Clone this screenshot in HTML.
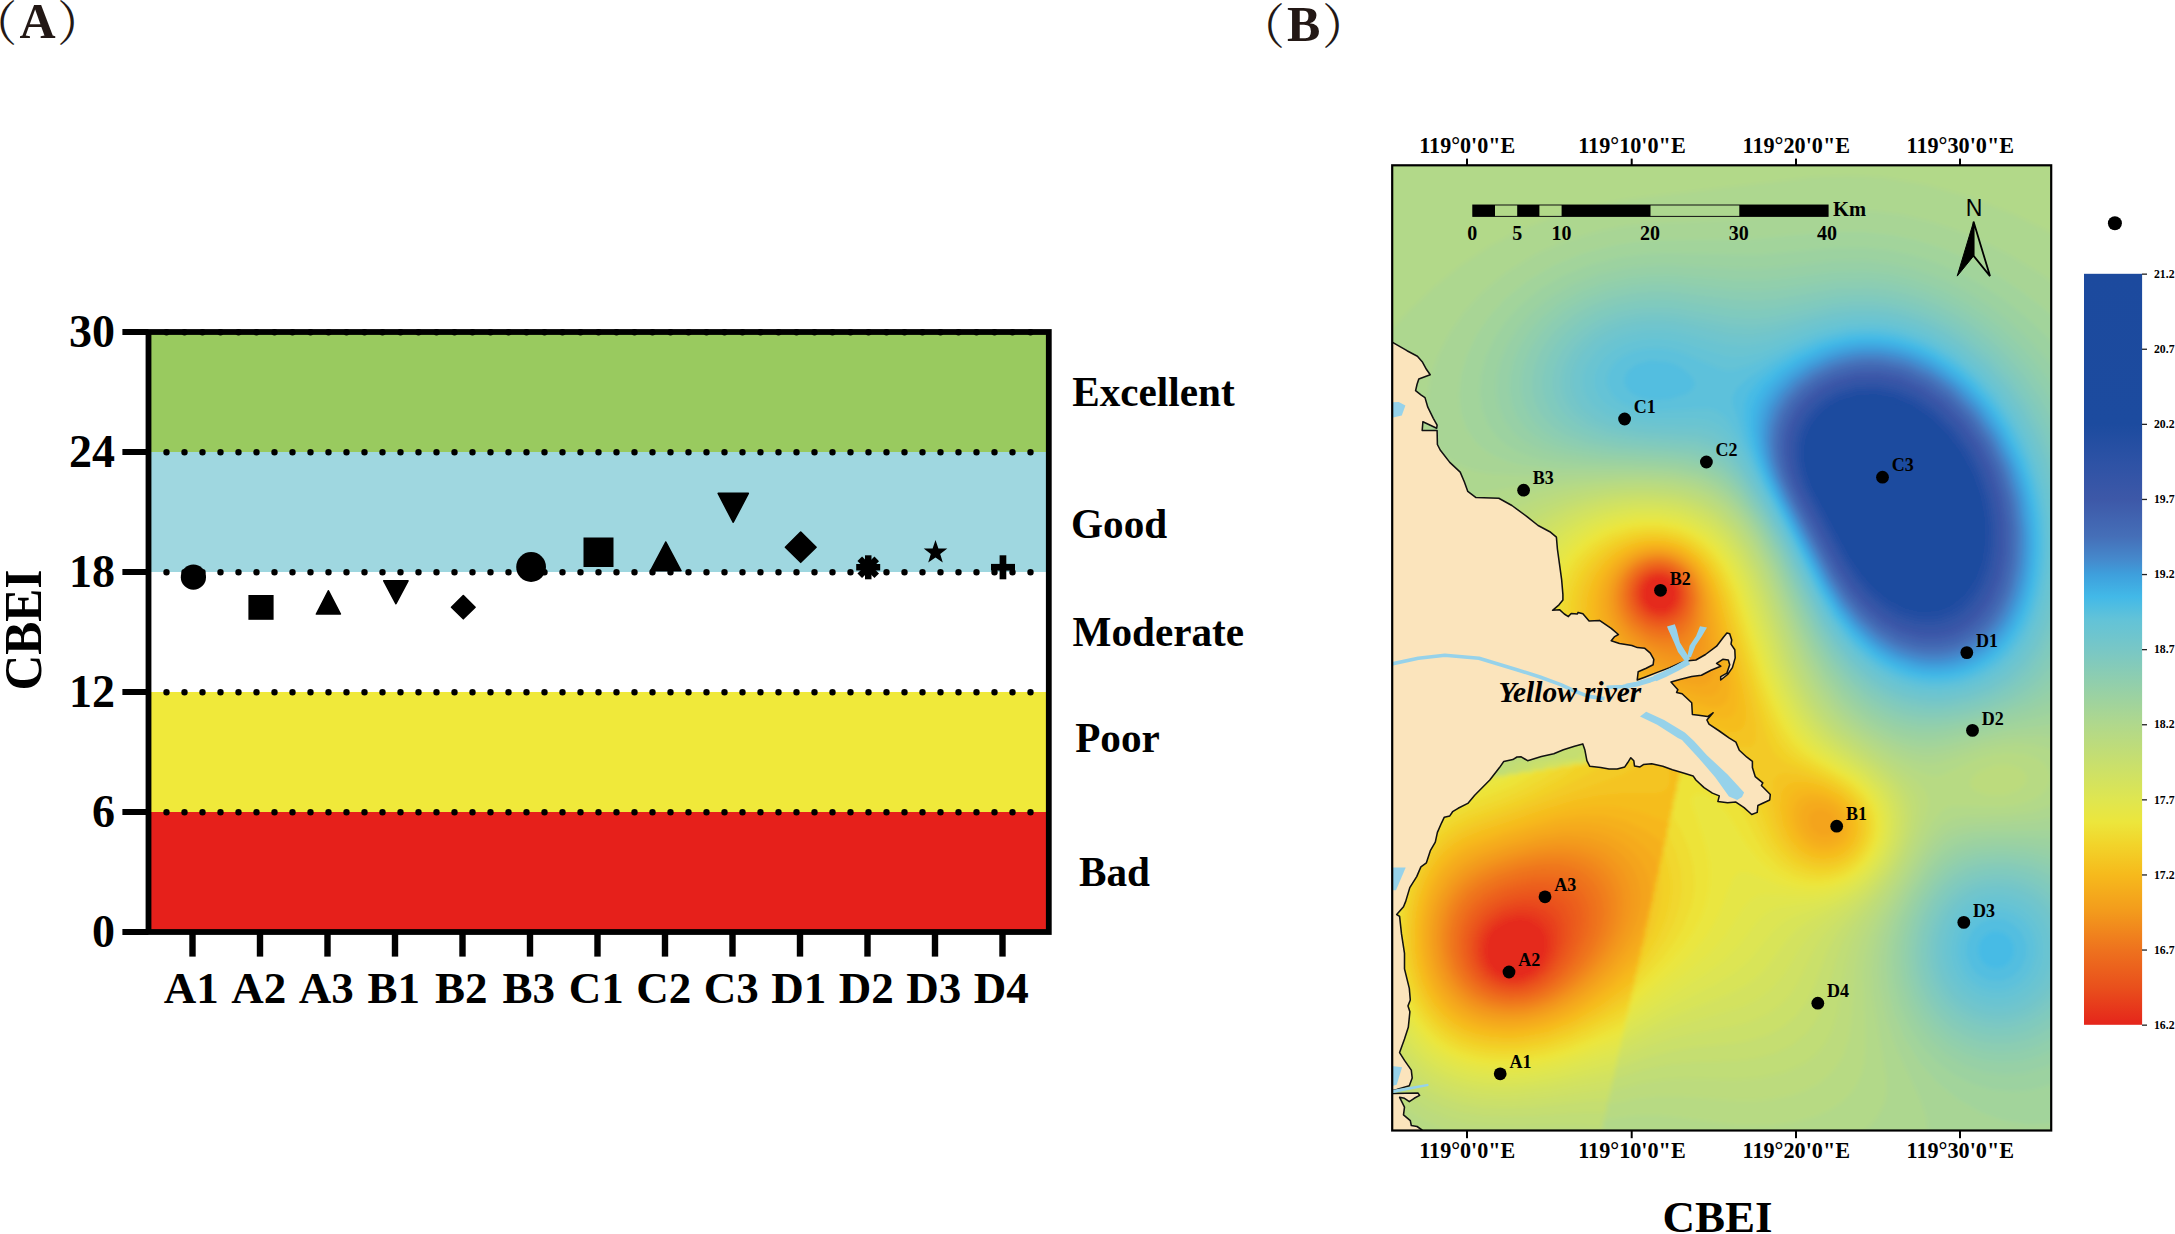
<!DOCTYPE html>
<html lang="en"><head><meta charset="utf-8"><title>CBEI figure</title>
<style>html,body{margin:0;padding:0;background:#fff}body{width:2175px;height:1234px;overflow:hidden}svg{display:block}text{font-family:'Liberation Serif','Noto Serif CJK SC',serif;font-weight:bold;fill:#000}.s{font-family:'Liberation Sans',sans-serif;font-weight:normal}</style></head><body>
<svg width="2175" height="1234" viewBox="0 0 2175 1234">
<rect width="2175" height="1234" fill="#fff"/>
<g id="panelA">
<rect x="148.5" y="332" width="900.3" height="120" fill="#99ca5f"/>
<rect x="148.5" y="452" width="900.3" height="120" fill="#9fd7e0"/>
<rect x="148.5" y="572" width="900.3" height="120" fill="#ffffff"/>
<rect x="148.5" y="692" width="900.3" height="120" fill="#f0e93a"/>
<rect x="148.5" y="812" width="900.3" height="120" fill="#e6201b"/>
<line x1="166.5" x2="1031" y1="332.3" y2="332.3" stroke="#000" stroke-width="6.4" stroke-linecap="round" stroke-dasharray="0 18"/>
<line x1="166.5" x2="1031" y1="452.3" y2="452.3" stroke="#000" stroke-width="6.4" stroke-linecap="round" stroke-dasharray="0 18"/>
<line x1="166.5" x2="1031" y1="572.3" y2="572.3" stroke="#000" stroke-width="6.4" stroke-linecap="round" stroke-dasharray="0 18"/>
<line x1="166.5" x2="1031" y1="692.3" y2="692.3" stroke="#000" stroke-width="6.4" stroke-linecap="round" stroke-dasharray="0 18"/>
<line x1="166.5" x2="1031" y1="812.3" y2="812.3" stroke="#000" stroke-width="6.4" stroke-linecap="round" stroke-dasharray="0 18"/>
<rect x="148.5" y="332.0" width="900.3" height="600.0" fill="none" stroke="#000" stroke-width="5.8"/>
<rect x="122.4" y="329.0" width="26" height="6" fill="#000"/>
<text x="115" y="347.4" font-size="46" text-anchor="end">30</text>
<rect x="122.4" y="449.0" width="26" height="6" fill="#000"/>
<text x="115" y="467.4" font-size="46" text-anchor="end">24</text>
<rect x="122.4" y="569.0" width="26" height="6" fill="#000"/>
<text x="115" y="587.4" font-size="46" text-anchor="end">18</text>
<rect x="122.4" y="689.0" width="26" height="6" fill="#000"/>
<text x="115" y="707.4" font-size="46" text-anchor="end">12</text>
<rect x="122.4" y="809.0" width="26" height="6" fill="#000"/>
<text x="115" y="827.4" font-size="46" text-anchor="end">6</text>
<rect x="122.4" y="929.0" width="26" height="6" fill="#000"/>
<text x="115" y="947.4" font-size="46" text-anchor="end">0</text>
<rect x="189.3" y="932" width="6.4" height="24.6" fill="#000"/>
<text x="191.3" y="1003.4" font-size="45" text-anchor="middle">A1</text>
<rect x="256.8" y="932" width="6.4" height="24.6" fill="#000"/>
<text x="258.8" y="1003.4" font-size="45" text-anchor="middle">A2</text>
<rect x="324.3" y="932" width="6.4" height="24.6" fill="#000"/>
<text x="326.3" y="1003.4" font-size="45" text-anchor="middle">A3</text>
<rect x="391.8" y="932" width="6.4" height="24.6" fill="#000"/>
<text x="393.8" y="1003.4" font-size="45" text-anchor="middle">B1</text>
<rect x="459.3" y="932" width="6.4" height="24.6" fill="#000"/>
<text x="461.3" y="1003.4" font-size="45" text-anchor="middle">B2</text>
<rect x="526.8" y="932" width="6.4" height="24.6" fill="#000"/>
<text x="528.8" y="1003.4" font-size="45" text-anchor="middle">B3</text>
<rect x="594.3" y="932" width="6.4" height="24.6" fill="#000"/>
<text x="596.3" y="1003.4" font-size="45" text-anchor="middle">C1</text>
<rect x="661.8" y="932" width="6.4" height="24.6" fill="#000"/>
<text x="663.8" y="1003.4" font-size="45" text-anchor="middle">C2</text>
<rect x="729.3" y="932" width="6.4" height="24.6" fill="#000"/>
<text x="731.3" y="1003.4" font-size="45" text-anchor="middle">C3</text>
<rect x="796.8" y="932" width="6.4" height="24.6" fill="#000"/>
<text x="798.8" y="1003.4" font-size="45" text-anchor="middle">D1</text>
<rect x="864.3" y="932" width="6.4" height="24.6" fill="#000"/>
<text x="866.3" y="1003.4" font-size="45" text-anchor="middle">D2</text>
<rect x="931.8" y="932" width="6.4" height="24.6" fill="#000"/>
<text x="933.8" y="1003.4" font-size="45" text-anchor="middle">D3</text>
<rect x="999.3" y="932" width="6.4" height="24.6" fill="#000"/>
<text x="1001.3" y="1003.4" font-size="45" text-anchor="middle">D4</text>
<circle cx="193.4" cy="577.2" r="12.6" fill="#000"/>
<rect x="248.4" y="595" width="25.2" height="24.8" fill="#000"/>
<polygon points="316.4,614.0 340.4,614.0 328.4,590.8" fill="#000" stroke="#000" stroke-width="1.6" stroke-linejoin="round"/>
<polygon points="383.8,580.8 408.0,580.8 395.9,603.7" fill="#000" stroke="#000" stroke-width="1.6" stroke-linejoin="round"/>
<polygon points="451.5,607.2 463.3,595.6 475.1,607.2 463.3,618.8" fill="#000" stroke="#000" stroke-width="1.6" stroke-linejoin="round"/>
<circle cx="531.1" cy="567" r="14.9" fill="#000"/>
<rect x="583.5" y="537.5" width="30" height="29.5" fill="#000"/>
<polygon points="650.6,570.8 681.0,570.8 665.8,542.0" fill="#000" stroke="#000" stroke-width="1.6" stroke-linejoin="round"/>
<polygon points="718.2,493.4 748.3,493.4 733.2,522.2" fill="#000" stroke="#000" stroke-width="1.6" stroke-linejoin="round"/>
<polygon points="785.4,547.2 800.7,532.1 816.1,547.2 800.7,562.3" fill="#000" stroke="#000" stroke-width="1.6" stroke-linejoin="round"/>
<rect x="856.2" y="564.0" width="24" height="6.5" fill="#000" transform="rotate(0 868.2 567.3)"/>
<rect x="856.2" y="564.0" width="24" height="6.5" fill="#000" transform="rotate(45 868.2 567.3)"/>
<rect x="856.2" y="564.0" width="24" height="6.5" fill="#000" transform="rotate(90 868.2 567.3)"/>
<rect x="856.2" y="564.0" width="24" height="6.5" fill="#000" transform="rotate(135 868.2 567.3)"/>
<polygon points="935.5,540.0 938.4,548.4 947.3,548.6 940.2,553.9 942.8,562.4 935.5,557.4 928.2,562.4 930.8,553.9 923.7,548.6 932.6,548.4" fill="#000"/>
<rect x="991.0" y="563.9" width="24" height="6.7" fill="#000"/><rect x="999.6" y="555.3" width="6.7" height="24" fill="#000"/>
<text x="1072.2" y="406.0" font-size="41.2">Excellent</text>
<text x="1071.0" y="538.2" font-size="41.2">Good</text>
<text x="1072.6" y="646.0" font-size="41.2">Moderate</text>
<text x="1075.2" y="752.0" font-size="41.2">Poor</text>
<text x="1079.0" y="885.8" font-size="41.2">Bad</text>
<text transform="translate(41 630) rotate(-90) scale(1 1.06)" font-size="49.5" text-anchor="middle">CBEI</text>
</g>
<g fill="#231815" font-size="51">
<text x="-30.7" y="40" style="font-weight:normal;fill:#231815" font-size="48">（</text><text x="19.5" y="38" style="fill:#231815" font-size="50">A</text><text x="57.1" y="40" style="font-weight:normal;fill:#231815" font-size="48">）</text>
<text x="1236.9" y="43" style="font-weight:normal;fill:#231815" font-size="48">（</text><text x="1287" y="41" style="fill:#231815" font-size="50">B</text><text x="1321.9" y="43" style="font-weight:normal;fill:#231815" font-size="48">）</text>
</g>
<g id="panelB">
<defs><clipPath id="mapclip"><rect x="1392.2" y="165.3" width="659.0" height="965.2"/></clipPath>
<linearGradient id="cb" x1="0" y1="0" x2="0" y2="1">
<stop offset="0.0000" stop-color="#1c4a9e"/>
<stop offset="0.2000" stop-color="#1c4b9f"/>
<stop offset="0.2500" stop-color="#2d52a5"/>
<stop offset="0.3000" stop-color="#3d58a8"/>
<stop offset="0.3500" stop-color="#456fb8"/>
<stop offset="0.3800" stop-color="#4589cc"/>
<stop offset="0.4000" stop-color="#3e9fdc"/>
<stop offset="0.4300" stop-color="#42b9e8"/>
<stop offset="0.4600" stop-color="#62c3d8"/>
<stop offset="0.5000" stop-color="#78c7c6"/>
<stop offset="0.6000" stop-color="#b0d88c"/>
<stop offset="0.7000" stop-color="#dfe650"/>
<stop offset="0.7300" stop-color="#ece63c"/>
<stop offset="0.7600" stop-color="#f2d42a"/>
<stop offset="0.8000" stop-color="#f6ba1c"/>
<stop offset="0.8500" stop-color="#f39a1c"/>
<stop offset="0.9000" stop-color="#ee721e"/>
<stop offset="0.9500" stop-color="#e9501c"/>
<stop offset="1.0000" stop-color="#e5251b"/>
</linearGradient><filter id="sm" filterUnits="userSpaceOnUse" x="1380" y="150" width="690" height="1000"><feGaussianBlur stdDeviation="2.2"/></filter></defs>
<g clip-path="url(#mapclip)">
<g filter="url(#sm)">
<rect x="1378" y="151" width="688" height="994" fill="#e5291b"/>
<path fill="#e6321b" d="M2066 1145L1378 1145L1378 151L2066 151L2066 1145ZM1666.2 609L1671.6 605L1674.8 599L1675.4 593L1673.9 587L1670 581.7L1664 578.2L1658 577.5L1652.5 579L1647.3 583L1644.1 589L1643.7 595L1645.5 601L1648.3 605L1654 608.9L1660 610.2L1666.2 609ZM1519.8 977L1530 972.9L1538.8 965L1544.2 955L1546 945L1544.4 935L1539.5 927L1530.5 921L1520 919L1508 921.1L1496 928.1L1491.6 933L1488.2 939L1486 951L1486.8 957L1489.1 963L1496 971.4L1502 975.1L1507.8 977L1519.8 977Z"/>
<path fill="#e73a1c" d="M2066 1145L1378 1145L1378 151L2066 151L2066 1145ZM1667.9 611L1673.1 607L1676.6 601L1677.6 593L1676 586.7L1672 580.8L1666 576.8L1658 575.4L1652 576.9L1646.2 581L1642.5 587L1641.4 595L1642.9 601L1647 607L1654 611.6L1662 612.7L1667.9 611ZM1523 979L1534.8 973L1544 963L1549.1 951L1550.1 939L1547.3 929L1540 920.2L1530 915.5L1518 914.6L1504 918.3L1498 921.7L1491.8 927L1487.3 933L1484.5 939L1483 945L1482.8 953L1486.7 965L1491.2 971L1496 975L1508 979.8L1516 980.3L1523 979Z"/>
<path fill="#e8431c" d="M2066 1145L1378 1145L1378 151L2066 151L2066 1145ZM1662.9 615L1670 612.6L1676 607L1679.3 599L1679.3 591L1676.2 583L1670.3 577L1664 574.1L1656 573.7L1650 575.7L1643.6 581L1639.7 589L1639.5 597L1642.6 605L1648 610.9L1656 614.6L1662.9 615ZM1525.5 981L1536.8 975L1546.4 965L1553 951L1554.6 937L1551.5 925L1544 915.9L1533.8 911L1520 909.9L1504 913.9L1496 918.4L1490 923.5L1485.5 929L1481.4 937L1479.9 943L1479.4 951L1480.8 959L1483.3 965L1488 971.8L1494 977L1502 981L1510 982.8L1518 982.7L1525.5 981Z"/>
<path fill="#e94c1c" d="M2066 1145L1378 1145L1378 151L2066 151L2066 1145ZM1665.6 617L1673.6 613L1678.6 607L1681.3 599L1680.8 589L1677 581L1670 574.7L1662 571.9L1652 572.8L1644.8 577L1639.9 583L1637.4 591L1638.4 601L1642.9 609L1650 614.8L1658 617.4L1665.6 617ZM1520.1 985L1534 980.1L1545.4 971L1554.7 957L1559 943L1559 929L1557.4 923L1554.2 917L1546 909.5L1534 905.2L1524 904.7L1514 906.1L1504 909.3L1496 913.5L1489 919L1483.7 925L1479.1 933L1476.7 941L1476.1 951L1477.5 959L1480.9 967L1487.1 975L1494 980.3L1502 983.8L1510 985.4L1520.1 985Z"/>
<path fill="#ea531c" d="M2066 1145L1378 1145L1378 151L2066 151L2066 1145ZM1667.6 619L1676 614.1L1681 607L1683.5 597L1682.1 587L1677.6 579L1670 572.7L1662 570.2L1652 571L1644 575.2L1637.8 583L1635.4 591L1636.2 601L1640.2 609L1648 616.3L1658 619.8L1667.6 619ZM1523.1 987L1537.6 981L1549.4 971L1558.8 957L1564.1 941L1564.5 925L1560 913L1556 908.2L1550 903.8L1538 899.8L1528 899.2L1516 900.8L1504 904.5L1494 909.8L1486 916.2L1480 923.4L1475.9 931L1473.1 941L1472.8 951L1474.9 961L1478.6 969L1485.1 977L1493.3 983L1502 986.6L1512 988.1L1523.1 987Z"/>
<path fill="#eb5a1d" d="M2066 1145L1378 1145L1378 151L2066 151L2066 1145ZM1669.7 621L1678 615.5L1683.4 607L1685.3 595L1683.2 585L1678 576.8L1670 570.8L1660 568.3L1650 569.8L1641.5 575L1638 579L1634.9 585L1633.3 595L1635.5 605L1642 614.4L1650 619.9L1660 622.5L1669.7 621ZM1525.7 989L1540 982.7L1553.5 971L1564 955L1570 937L1570.4 921L1566.2 909L1562 903.5L1556.2 899L1544 894.4L1532 893.5L1520 894.9L1508 898.1L1496 903.5L1487.7 909L1479.6 917L1473.4 927L1470.1 937L1469.2 949L1470.9 959L1475.1 969L1483 979L1492 985.4L1502 989.3L1514 990.7L1525.7 989Z"/>
<path fill="#ec611d" d="M2066 1145L1378 1145L1378 151L2066 151L2066 1145ZM1664.1 625L1674 621.9L1682 614.4L1686.7 603L1686.7 591L1683.1 581L1676 572.7L1666 567.6L1654 567L1644 570.9L1636 578.7L1631.8 589L1631.6 599L1636 610.5L1643.9 619L1654 624L1664.1 625ZM1518 993L1528 991L1536 988L1544.6 983L1552 977L1565.1 961L1573.7 943L1577.1 925L1576.7 917L1574.5 909L1571.4 903L1566.2 897L1560.6 893L1554 890.1L1542 887.8L1528 888.2L1514 891.1L1500 896.3L1488.2 903L1480 910L1473 919L1468.3 929L1465.7 941L1466.1 953L1469.5 965L1475.4 975L1484 983.6L1494 989.4L1506 992.7L1518 993Z"/>
<path fill="#ed681d" d="M2066 1145L1378 1145L1378 151L2066 151L2066 1145ZM1669.1 627L1674 625.1L1679.8 621L1686 612.1L1689.1 599L1687.5 587L1682 576.5L1672 568.2L1662 565.1L1650 566.2L1640 571.6L1632.5 581L1629.3 593L1631 605L1636.5 615L1646 623.2L1658 627.6L1669.1 627ZM1522.5 995L1532 992.5L1540 989L1548 984.1L1556.5 977L1563.8 969L1571 959L1580.4 939L1583.6 921L1583 913L1580.8 905L1577.8 899L1572 892.2L1566 887.8L1558 884.2L1546 881.9L1532 882.3L1516 885.4L1500 891L1488 897.5L1478 905.5L1470 915.5L1464.6 927L1461.9 941L1462.9 955L1466.8 967L1474 978.2L1484 987.2L1496 993.1L1510 995.8L1522.5 995Z"/>
<path fill="#ee6f1e" d="M2066 1145L1378 1145L1378 151L2066 151L2066 1145ZM1673.1 629L1682 622.8L1686 617.4L1688.9 611L1691 597L1687.8 583L1680 571.9L1670 565.5L1658 563.3L1646 565.9L1635.9 573L1629.5 583L1627.2 595L1628.2 603L1630.2 609L1638 620.1L1648 627.2L1660 630.7L1666 630.7L1673.1 629ZM1526 997L1536 993.9L1545.8 989L1554.4 983L1563.2 975L1571.7 965L1578.3 955L1587.3 935L1589.5 925L1590 915L1588.9 907L1586.2 899L1582 892.1L1576 885.9L1570 881.9L1562 878.5L1548 876.1L1532 876.9L1514 880.8L1497.3 887L1484 894.5L1474 902.9L1466.2 913L1460.8 925L1458.2 939L1459.2 955L1464 969L1472.2 981L1484 990.7L1496 996L1510 998.4L1526 997Z"/>
<path fill="#ef761e" d="M2066 1145L1378 1145L1378 151L2066 151L2066 1145ZM1672.5 633L1678 630.5L1682.4 627L1687.1 621L1690.1 615L1692.3 607L1693 599L1690.5 585L1683.4 573L1678 568.1L1672 564.6L1660 561.7L1652 562.3L1646 564L1635.3 571L1630.4 577L1627.4 583L1625.1 595L1627.7 609L1635.4 621L1646 629.3L1660 634L1672.5 633ZM1517.8 1001L1528 999.3L1540 995.2L1550 989.9L1559.4 983L1569.9 973L1578.2 963L1584.8 953L1590.8 941L1594.2 931L1596.1 921L1596.3 911L1594.5 901L1591.2 893L1585.6 885L1578.7 879L1570 874.3L1556 870.8L1540 870.6L1522 873.6L1502 879.8L1486.8 887L1475.4 895L1466 905L1459.2 917L1454.8 933L1454.6 949L1457.7 963L1464.8 977L1476 988.9L1488 996.1L1502 1000.4L1517.8 1001Z"/>
<path fill="#f07e1d" d="M2066 1145L1378 1145L1378 151L2066 151L2066 1145ZM1673.5 637L1680 634.1L1684 630.7L1688.4 625L1692 617.5L1695 601L1694.4 593L1692.4 585L1685.6 573L1680 567.6L1674 563.8L1668 561.4L1660 560L1652 560.5L1646 562.2L1640 565.1L1634 569.7L1626 581L1622.9 595L1625.2 609L1632 621.1L1644 631.6L1652 635.5L1660 637.6L1668 638L1673.5 637ZM1524.1 1003L1536 999.9L1546 995.6L1556.9 989L1567 981L1576.9 971L1586.3 959L1593.6 947L1598.9 935L1602 923L1603 913L1602.2 903L1599.3 893L1594.9 885L1588 877.2L1580 871.6L1572 868L1558 865L1540 865.2L1520 869L1498 876.3L1482 884.2L1470 893.3L1460.4 905L1454.5 917L1450.8 933L1451 951L1455.4 967L1464 981.7L1476 993L1490 1000.2L1506 1003.8L1524.1 1003Z"/>
<path fill="#f1861d" d="M2066 1145L1378 1145L1378 151L2066 151L2066 1145ZM1677.6 641L1684 637.2L1688 632.8L1692 625.9L1695.1 617L1697 599L1693.5 583L1686 570.9L1680 565.5L1674 561.9L1668 559.7L1660 558.4L1652 558.8L1644 561.1L1638 564.2L1631.9 569L1626.9 575L1622.9 583L1620.5 597L1621.4 605L1624 613L1628 620.4L1633.4 627L1646 636.5L1654 640.1L1662 642.1L1670 642.6L1677.6 641ZM1528.7 1005L1540 1001.6L1552 995.9L1562.6 989L1574.5 979L1585.7 967L1594.6 955L1601.3 943L1606.2 931L1609 919L1609.6 909L1608.6 899L1605.6 889L1601.1 881L1594 872.8L1586 867L1576 862.5L1560 859.3L1540 860L1516.5 865L1493.5 873L1478 881L1465.5 891L1456.2 903L1450 916.9L1446.6 935L1447.9 955L1454.2 973L1463.9 987L1476.1 997L1492 1004.1L1510 1006.9L1528.7 1005Z"/>
<path fill="#f28e1d" d="M2066 1145L1378 1145L1378 151L2066 151L2066 1145ZM1680.4 647L1686 643.8L1690.2 639L1694.3 631L1697.7 619L1699.1 599L1697.5 589L1694.6 581L1689.9 573L1684.5 567L1672 559.2L1664 557.1L1656 556.6L1642 559.9L1636 563.2L1629.1 569L1624.4 575L1620.5 583L1618.5 591L1618.1 599L1619.1 607L1621.8 615L1626.2 623L1632 630.2L1646 640.8L1654 644.6L1664 647.6L1674 648.3L1680.4 647ZM1523.6 1009L1536 1006.1L1549 1001L1562 993.6L1573.4 985L1586 973L1596.1 961L1604 949L1610.8 935L1614.6 923L1616.4 911L1616 899L1613.6 889L1609 879L1602.8 871L1594 863.6L1584 858.3L1568 854.2L1548 853.9L1524 858.1L1498 866.1L1480 874.3L1466 883.9L1456 895L1448.3 909L1443.3 929L1443.2 949L1448.3 969L1457.5 985L1470 997L1486 1005.5L1504 1009.6L1523.6 1009Z"/>
<path fill="#f3961c" d="M2066 1145L1378 1145L1378 151L2066 151L2066 1145ZM1684.1 655L1690 651.7L1694 646.5L1697.6 637L1700 625.8L1701.5 613L1701.5 601L1700 591L1696.6 581L1692.1 573L1687 567L1680 561.4L1672 557.4L1664 555.3L1656 554.9L1648 556L1640 558.7L1632.8 563L1626.2 569L1620.6 577L1617.3 585L1615.6 593L1615.4 601L1616.6 609L1620 618.6L1624 625.7L1630 633.2L1638 640.4L1646 645.7L1656 650.7L1668 654.6L1676 655.8L1684.1 655ZM1512.9 1013L1526 1011.7L1540 1008.1L1554 1002.2L1568 993.7L1581.6 983L1593.6 971L1604.8 957L1613.3 943L1619.4 929L1622.9 915L1623.8 903L1622.4 891L1618.1 879L1612 869.5L1604 861.5L1594 855.1L1578 849.5L1560 847.8L1538 850L1512 856.5L1488 865.1L1470 874.7L1458 885.1L1448 899.5L1441 919L1438.9 939L1441.8 961L1449.1 979L1460 993.3L1468 1000L1476 1004.9L1494 1011.2L1512.9 1013Z"/>
<path fill="#f39d1c" d="M2066 1145L1378 1145L1378 151L2066 151L2066 1145ZM1688.1 665L1694 662.9L1698 658.9L1700.6 653L1702.5 643L1704.2 621L1704.2 605L1702.6 593L1698.7 581L1694.3 573L1688 565.5L1682 560.6L1674 556.3L1666 553.9L1658 553L1648 554L1640 556.6L1632 561L1625 567L1618.9 575L1615.2 583L1613.1 591L1612.4 601L1613.8 611L1617.3 621L1622 629.3L1628.1 637L1636 644.3L1646 651.4L1658 657.7L1670 662.5L1680 664.9L1688.1 665ZM1525.6 1015L1540 1011.5L1554 1005.9L1568 998.1L1583 987L1595.9 975L1607.9 961L1617.4 947L1624.5 933L1629.4 919L1631.5 907L1631.5 895L1629 883L1623.5 871L1616 861.4L1606 853.2L1596 847.8L1578 842.9L1556 842.3L1530 846.7L1498 856.2L1476.9 865L1462 874.8L1450.5 887L1442 902.4L1438.4 913L1436.1 925L1435.2 937L1435.9 949L1438.1 961L1441.2 971L1446 981L1451.3 989L1458 996.5L1465.9 1003L1474 1007.9L1484 1012.1L1504 1016L1525.6 1015Z"/>
<path fill="#f4a41c" d="M2066 1145L1378 1145L1378 151L2066 151L2066 1145ZM1696.6 675L1701.3 673L1705 669L1707.4 663L1708.6 653L1706.6 603L1703.8 589L1699 577L1693.7 569L1688 562.9L1680 557.2L1672 553.6L1664 551.6L1654 551.3L1644 553L1636 556.2L1628 561.2L1620.1 569L1614.8 577L1610.9 587L1609.2 597L1609.5 607L1611.7 617L1615.9 627L1622 636.5L1630 645.3L1640 653.6L1650 660.1L1664 667.4L1678 672.9L1688 675.2L1696.6 675ZM1520.5 1019L1536 1016.1L1552 1010.6L1566.9 1003L1581.8 993L1596 981L1609.3 967L1621.5 951L1630.8 935L1636.5 921L1639.9 907L1640.6 895L1638.9 883L1634.3 871L1627.8 861L1618 851.3L1606 843.8L1588 837.7L1566 836L1542 838.9L1510 847.3L1482 857.3L1464.3 867L1451.1 879L1440.8 895L1436.8 905L1433.6 917L1432 929L1431.8 943L1433.1 955L1436 967L1439.8 977L1445.3 987L1458 1001.6L1466 1007.6L1476 1012.9L1486 1016.4L1498 1018.8L1520.5 1019Z"/>
<path fill="#f5aa1c" d="M2066 1145L1378 1145L1378 151L2066 151L2066 1145ZM1705.3 685L1710 682.2L1713.3 677L1715.1 669L1715.3 659L1708.6 599L1704.8 585L1700.2 575L1694.6 567L1688 560.4L1680 555L1670 551L1660 549.3L1650 549.7L1640 552.1L1632 555.8L1624 561.3L1616.7 569L1610.6 579L1607.1 589L1605.6 599L1606.2 611L1609.3 623L1614 632.9L1621 643L1630 652.4L1640 660.4L1654 669.3L1670 677.4L1686 683.5L1698 685.8L1705.3 685ZM1831 835L1835.2 831L1836.8 827L1836.5 821L1833.2 815L1828 810.7L1822 808.6L1816 808.9L1812 811L1809.3 815L1808.5 819L1809.5 825L1812 829.7L1816 833.6L1820 835.7L1826 836.5L1831 835ZM1529.9 1021L1546 1016.6L1562 1009.8L1578 1000.5L1594 988.5L1608.5 975L1622.6 959L1635.1 941L1643.6 925L1649.1 909L1650.9 897L1650.4 885L1647.3 873L1640.9 861L1632.4 851L1622 842.6L1610 836.2L1600 832.7L1588 830.3L1564 830L1536 835L1498 846.2L1474 855.6L1458 865.7L1446 878.1L1436.3 895L1432.1 907L1429.5 919L1428.2 933L1428.6 947L1430.3 959L1434 972.2L1438.7 983L1444.9 993L1452 1001.3L1460 1008.1L1470 1014.2L1480 1018.4L1492 1021.5L1504 1022.9L1516 1022.8L1529.9 1021Z"/>
<path fill="#f5b01c" d="M2066 1145L1378 1145L1378 151L2066 151L2066 1145ZM1714.3 695L1718.9 691L1721.4 685L1722.4 677L1721.9 665L1711.2 599L1707.2 585L1701.4 573L1695.6 565L1686.8 557L1678 551.8L1668 548.4L1658 547.2L1648 547.8L1638 550.5L1628 555.3L1618.2 563L1611.5 571L1606.1 581L1602.4 593L1601.4 605L1602.8 617L1606.5 629L1611.7 639L1619 649L1629 659L1642 668.9L1656 677.3L1676 687.3L1694 694.1L1706 696.4L1714.3 695ZM1830.8 843L1838 838.9L1843 831L1843.8 823L1841.1 815L1834.1 807L1826 802.5L1816 800.6L1806.8 803L1802 808.3L1800.2 815L1800.9 823L1804.1 831L1808.9 837L1816 841.8L1824 843.8L1830.8 843ZM1527.3 1025L1542 1021.6L1558 1015.7L1572 1008.7L1587.2 999L1602.5 987L1615.3 975L1630 959L1642 943.4L1642.1 939L1644.1 937L1644.3 929L1646.3 927L1646.4 921L1648.3 919L1648.4 911L1650.4 909L1650.4 903L1652.3 901L1652.4 893L1654.3 891L1654.3 883L1656.2 881L1656.2 875L1658.1 873L1658 864L1652.2 855L1644 846L1634 838L1624 832.1L1604 825L1582 822.6L1558 824.8L1526 832.4L1486 845.3L1464.9 855L1456 861.1L1448 868.6L1441.4 877L1436 886.1L1430.6 899L1427 913L1425.1 927L1424.8 941L1426.1 955L1429.2 969L1433.7 981L1440 992.5L1448 1002.7L1456 1010L1466 1016.5L1476 1021L1488 1024.4L1500 1026.2L1514 1026.4L1527.3 1025Z"/>
<path fill="#f6b71c" d="M2066 1145L1378 1145L1378 151L2066 151L2066 1145ZM1719.3 707L1725.9 703L1728.7 697L1729.8 687L1728.9 675L1714 599L1709.8 585L1704 573L1698 564.6L1690 556.8L1680 550.5L1670 546.8L1660 545.2L1648 545.6L1636 548.7L1626 553.5L1616.1 561L1607.5 571L1602 581L1598.2 593L1596.8 605L1598.1 619L1601.6 631L1607.5 643L1614.8 653L1624.5 663L1636 672.1L1650.1 681L1674 693.4L1696 703L1710 707L1719.3 707ZM1829.7 849L1840 844.4L1844 840.4L1847.2 835L1849.1 825L1846 813.7L1838 804L1826 796.9L1812 794.2L1802 796.4L1796 802.2L1793.3 811L1793.9 821L1797.4 831L1804 840.2L1812 846.2L1820 849L1829.7 849ZM1524.8 1029L1540 1025.9L1554 1021.4L1568 1015.2L1582 1007.3L1609.5 987L1638 959.4L1638.1 957L1640.1 955L1640.4 947L1642.4 945L1642.6 939L1644.5 937L1644.7 929L1646.7 927L1646.8 921L1648.7 919L1648.8 911L1650.8 909L1650.8 903L1652.7 901L1652.8 893L1654.7 891L1654.7 883L1656.6 881L1656.5 875L1658.5 873L1658.4 865L1660.3 863L1660.2 857L1662.2 855L1662.1 847L1664 845L1658 839L1646.7 831L1626 821L1604 815.8L1582 815.2L1556 819L1504 834L1470 846.6L1458.8 853L1450 860L1442 868.7L1436.3 877L1430.3 889L1425.6 903L1422.4 919L1421.3 935L1422.1 951L1424.6 965L1429 979L1434.7 991L1442 1001.6L1450 1010.1L1460 1017.6L1470 1022.8L1482 1026.9L1496 1029.5L1510 1030.2L1524.8 1029Z"/>
<path fill="#f5bd1e" d="M2066 1145L1378 1145L1378 151L2066 151L2066 1145ZM1726.1 719L1732 716.8L1736 711L1737.5 701L1736.4 687L1732 663L1717 599L1711.6 583L1705.5 571L1698 561.2L1690 554.1L1680 548.1L1668 544.1L1656 542.8L1644 543.9L1632 547.5L1622 552.6L1611.4 561L1603 571L1596.6 583L1593.1 595L1591.8 607L1593 621L1597 635L1603 647L1610.1 657L1620 667.3L1632 676.9L1646 685.8L1672 699.5L1700 712.5L1716 718.1L1726.1 719ZM1833.4 853L1844.1 847L1849.2 841L1852 835.2L1853.4 823L1849.3 811L1845 805L1838.4 799L1824 791.4L1808 788.2L1800 789L1795.1 791L1789.5 797L1786.7 809L1788.5 823L1794 835.7L1802 845.3L1812 851.7L1822 854.2L1833.4 853ZM1522.6 1033L1536 1030.7L1550 1026.8L1564 1021.3L1578 1014.3L1604.5 997L1636 970.5L1636.2 967L1638.2 965L1638.6 957L1640.5 955L1640.9 947L1642.8 945L1643 939L1645 937L1645.2 929L1647.1 927L1647.2 921L1649.2 919L1649.3 911L1651.2 909L1651.2 903L1653.1 901L1653.2 893L1655.1 891L1655.1 883L1657 881L1656.9 875L1658.9 873L1658.8 865L1660.7 863L1660.6 857L1662.6 855L1662.4 847L1664.4 845L1664.3 839L1666.2 837L1666.1 829L1668.1 827L1668 822.1L1640 811.7L1618 806.9L1596 806L1570 809.3L1536 818.4L1472 840L1462 845.1L1452 851.8L1444 859.3L1436.3 869L1428.6 883L1423.5 897L1419.8 913L1418.1 929L1418.4 947L1420.7 963L1424.5 977L1430.6 991L1438 1002.7L1446 1011.7L1456 1019.7L1466 1025.4L1478 1029.9L1492 1032.9L1508 1033.9L1522.6 1033Z"/>
<path fill="#f4c421" d="M2066 1145L1378 1145L1378 151L2066 151L2066 1145ZM1738.8 731L1743.4 727L1745.8 719L1745.5 707L1742.9 691L1719.4 597L1713.6 581L1705.7 567L1697.1 557L1688 549.9L1678 544.8L1666 541.3L1654 540.4L1640 542.1L1628 546.1L1616 552.8L1606 561.3L1596.8 573L1590.9 585L1587.2 599L1586.4 613L1588.3 627L1592.9 641L1600.6 655L1610 666.6L1620 676L1632 684.8L1648 694.2L1714 726.8L1728 731.3L1734 731.9L1738.8 731ZM1520.8 1037L1548 1031.4L1574 1021L1601.2 1005L1634 980.4L1634.3 975L1636.3 973L1636.6 967L1638.6 965L1639 957L1641 955L1641.3 947L1643.3 945L1643.5 939L1645.4 937L1645.6 929L1647.5 927L1647.6 921L1649.6 919L1649.7 911L1651.6 909L1651.6 903L1653.5 901L1653.6 893L1655.5 891L1655.5 883L1657.4 881L1657.3 875L1659.2 873L1659.2 865L1661.1 863L1661 857L1662.9 855L1662.8 847L1664.7 845L1664.7 839L1666.6 837L1666.5 829L1668.4 827L1668.3 819L1670.3 817L1670.2 811L1672.2 809L1672.1 801L1674.1 799L1674.1 793L1676.1 791L1676.1 783L1678.1 781L1678.1 775L1680.2 773L1680.2 765L1682.3 763L1682 760.7L1666.2 761L1670 773L1669.5 783L1666.9 789L1662 792.1L1654 793.6L1620 793.6L1598 795.7L1574 800.6L1544 809.7L1482 830.5L1464 838.1L1454 844.1L1446 850.5L1438 859.1L1431.2 869L1424.4 883L1419.7 897L1416.3 913L1414.7 931L1415.2 949L1417.6 965L1422 980.4L1428 994L1435 1005L1443.8 1015L1453.7 1023L1464 1028.9L1476 1033.5L1490 1036.5L1506 1037.7L1520.8 1037ZM1835.2 857L1842 853.8L1848 849.1L1852.8 843L1855.6 837L1857.2 831L1857.3 823L1855.5 815L1852 808.1L1846.4 801L1840 795.5L1824 786.9L1812 783.3L1802 781.9L1794 782.3L1788 784.4L1784 788.2L1781.7 793L1780.2 807L1783.5 825L1790.1 839L1798.8 849L1810 855.9L1822 858.8L1835.2 857Z"/>
<path fill="#f3ca25" d="M2066 1145L1378 1145L1378 151L2066 151L2066 1145ZM1750.3 747L1754.7 743L1756.1 735L1755.1 723L1751.6 705L1723.2 599L1716.6 581L1708 565.9L1698.5 555L1688 547.1L1676 541.4L1664 538.5L1652 537.9L1638 539.8L1624 544.5L1612 551.3L1600.7 561L1591.4 573L1584.8 587L1581.4 601L1580.7 615L1583 631L1588.7 647L1596.7 661L1604.8 671L1615.2 681L1626 689.1L1640 697.7L1724 740.5L1740 746.4L1750.3 747ZM1519.7 1041L1546 1036.1L1572 1026.4L1598 1012.5L1632 989.5L1632.3 985L1634.3 983L1634.8 975L1636.8 973L1637.1 967L1639.1 965L1639.5 957L1641.4 955L1641.7 947L1643.7 945L1643.9 939L1645.8 937L1646 930.1L1647.9 927L1652.7 903L1653.9 901L1654 893L1655.9 891L1655.8 883L1657.7 881L1657.7 875L1659.6 873L1659.5 865L1661.4 863L1661.4 857L1663.3 855L1663.2 847L1665.1 845L1665 839L1667 837L1666.8 829L1668.8 827L1668.7 819L1670.6 817L1670.6 811L1672.5 809L1672.4 801L1674.4 799L1674.4 793L1676.4 791L1676.4 783L1678.4 781L1678.4 775L1680.5 773L1680.6 765L1682.6 763L1682 760.3L1638.5 761L1636.9 765L1633.2 769L1622.4 775L1472 828.5L1458 835.3L1446 843.8L1436 854.2L1428.7 865L1421.8 879L1416.5 895L1412.9 913L1411.4 931L1411.9 949L1414.2 965L1418.5 981L1424.4 995L1431.7 1007L1440.2 1017L1450 1025.4L1462 1032.5L1474 1037.1L1488 1040.3L1504 1041.6L1519.7 1041ZM1826.3 863L1836 861L1844 857.2L1850 852.4L1856 844.9L1859.6 837L1861.2 827L1859.9 817L1856.7 809L1852 802.1L1844.9 795L1836 788.7L1826 783.6L1812 778.5L1796 774.5L1784 773.4L1778 774.9L1774.4 779L1773.2 783L1772.9 801L1776.5 821L1783.1 837L1791.9 849L1802 857.1L1814 862L1826.3 863Z"/>
<path fill="#f2d128" d="M2066 1145L1378 1145L1378 151L2066 151L2066 1145ZM1827.5 867L1836 865.2L1844.9 861L1852 855.6L1858 848.4L1862 840.6L1864.4 831L1864.3 821L1862.2 813L1854 799.3L1842 788.6L1826 779.6L1786.3 763L1778 757.1L1773 751L1769 743L1764.8 731L1725.9 597L1718.8 579L1710.6 565L1702 554.8L1690 545.3L1678 539.4L1664 535.9L1650 535.3L1634 537.7L1620 542.7L1608 549.5L1594.7 561L1585.7 573L1579.2 587L1575.5 603L1575 619L1577.6 635L1583.3 651L1592 666.3L1606.3 683L1626 698.2L1696.6 735L1735.5 757L1750 767L1755.5 773L1759.8 781L1771.9 825L1777.1 837L1783.6 847L1793.5 857L1804 863.3L1816 866.8L1827.5 867ZM1519.5 1045L1544 1040.7L1570 1031.9L1595.9 1019L1630 998.1L1630.4 993L1632.4 991L1632.8 985L1634.8 983L1635.3 975L1637.3 973L1637.6 967L1639.6 965L1639.9 957L1641.9 955L1642 952L1653 931L1659.4 911L1661.7 891L1659.9 865L1661.8 863L1661.8 857L1663.7 855L1663.6 847L1665.5 845L1665.4 839L1667.3 837L1667.2 829L1669.1 827L1669 819L1671 817L1670.9 811L1672.9 809L1672.8 801L1674.8 799L1674.7 793L1676.7 791L1676.7 783L1678.8 781L1678.8 775L1680.8 773L1680.9 765L1683 763L1682 760L1606.4 761L1599.6 767L1590.4 773L1554.4 791L1522 804.8L1474 821.7L1458 828.9L1448 835.5L1440 842.5L1432.6 851L1426 861L1418.4 877L1413.3 893L1409.7 911L1408.1 929L1408.4 947L1410.8 965L1414.9 981L1421.4 997L1428.5 1009L1438 1020.5L1448 1029L1460 1036.1L1474 1041.4L1488 1044.4L1504 1045.6L1519.5 1045Z"/>
<path fill="#f1d72d" d="M2066 1145L1378 1145L1378 151L2066 151L2066 1145ZM1828 871L1838 868.5L1846 864.6L1854 858.5L1860.3 851L1864.7 843L1867.5 833L1867.9 823L1865.7 813L1859.4 801L1847.8 789L1832 778.8L1794 759.6L1785.8 753L1777.9 743L1769.3 725L1758.6 695L1727.8 593L1721 577L1712.6 563L1702 551L1690 542.1L1676 535.9L1662 532.9L1646 532.6L1630 535.5L1615.1 541L1602 548.7L1590 559.2L1579.8 573L1572.7 589L1569.4 605L1569 621L1572 639L1578.6 657L1588 673.4L1604 692L1622 706L1636 714L1692 741.4L1718.3 757L1736 769.4L1745.8 779L1752 788.4L1768.9 833L1774.2 843L1781.7 853L1792 862L1804 868.3L1816 871.2L1828 871ZM1520.3 1049L1546 1044.4L1570 1036.4L1594.6 1025L1628 1006.3L1628.2 1003L1630.3 1001L1630.9 993L1632.9 991L1633.3 985L1635.3 983L1635.7 975L1637.7 973L1638 967.9L1648.7 953L1658.2 937L1665.2 921L1669.2 907L1671.1 893L1671 881L1668.8 867L1664 852.4L1663.9 847L1665.8 845L1665.8 839L1667.7 837L1667.6 829L1669.5 827L1669.4 819L1671.3 817L1671.3 811L1673.2 809L1673.1 801L1675.1 799L1675.1 793L1677.1 791L1677.1 783L1679.1 781L1679.1 775L1681.2 773L1681.2 765L1683.3 763L1683.3 761L1682 759.7L1592 760.7L1590 762.9L1586 762.9L1584 764.9L1579.6 765L1562.7 777L1532.9 793L1509.4 803L1470 816.9L1454 824.7L1444 831.7L1436.3 839L1423.3 857L1415.8 873L1410.1 891L1406.5 909L1404.8 929L1405.3 949L1407.7 967L1412.5 985L1419.3 1001L1426.5 1013L1436 1024.2L1446 1032.7L1458 1039.9L1472 1045.2L1486 1048.3L1502 1049.7L1520.3 1049Z"/>
<path fill="#efdd33" d="M2066 1145L1378 1145L1378 151L2066 151L2066 1145ZM1828.5 875L1840 871.7L1848.8 867L1858 859.2L1864 851.4L1868.9 841L1871.1 831L1870.9 821L1868.4 811L1861.8 799L1852 788.5L1838 778.5L1799.6 757L1790 748.7L1781.2 737L1771.4 717L1759.4 685L1730.4 591L1723.4 575L1716.2 563L1706 550.8L1694 541.2L1680 534.3L1664 530.2L1648 529.5L1630 532L1614 537.3L1598 546.2L1584 558.6L1573.7 573L1566.8 589L1563.2 607L1563.1 625L1566.8 645L1574 664.1L1585 683L1602 703.1L1620 717.6L1636 726.4L1670.4 741L1690.7 751L1714 765L1730 777L1739.6 787L1746 796.6L1760.8 831L1768.2 845L1775.8 855L1784.3 863L1794 869.2L1806 873.9L1818 875.7L1828.5 875ZM1522.2 1053L1546 1048.7L1572 1040.4L1593.3 1031L1626 1014.3L1628.2 1011L1628.8 1003L1630.8 1001L1631.4 993L1633.4 991L1633.8 985L1635.8 983L1636 978.9L1652.6 959L1664.8 941L1674 923L1679.8 905L1681.9 889L1680.9 871L1676.3 853L1668 834.8L1667.9 829L1669.8 827L1669.7 819L1671.7 817L1671.6 811L1673.6 809L1673.5 801L1675.5 799L1675.4 793L1677.4 791L1677.4 783L1679.4 781L1679.5 775L1681.5 773L1681.6 765L1683.6 763L1683.7 761L1682 759.3L1592 760L1590 762.7L1586 762.7L1584 764.7L1572 764.9L1570 766.9L1560 767L1542.7 779L1522 790.3L1502 798.9L1468 811.1L1452 819L1442 826.2L1434 833.9L1426.7 843L1420 853.9L1412.3 871L1406.8 889L1403.1 909L1401.4 929L1401.9 949L1404.6 969L1409.4 987L1416.1 1003L1424 1016.2L1434 1028L1446 1037.9L1458 1044.7L1472 1049.7L1488 1052.9L1504 1053.9L1522.2 1053Z"/>
<path fill="#ede339" d="M2066 1145L1378 1145L1378 151L2066 151L2066 1145ZM1525 1057L1546 1053.2L1568 1046.7L1590 1037.9L1624 1022.1L1626.2 1019L1626.6 1013L1628.7 1011L1629.3 1003L1631.3 1001L1631.9 993L1633.9 991L1634 988.9L1663.3 957L1673.6 943L1682.1 929L1691 907L1693.6 895L1694.5 883L1693.3 867L1688.8 849L1681.2 831L1672 814.8L1672 811L1673.9 809L1673.8 801L1675.8 799L1675.8 793L1677.8 791L1677.8 783L1679.8 781L1679.8 775L1681.8 773L1681.9 765L1684 763L1684 761.4L1709.3 775L1728 790.1L1740 806.2L1755 837L1765.1 853L1778 865.9L1794 875.2L1806 878.9L1818 880.1L1830 878.8L1842 874.9L1852 869L1862 859.6L1869 849L1872.8 839L1874.5 827L1873.5 817L1869.3 805L1862.6 795L1854.8 787L1846 780.1L1813.6 761L1802 753L1791.7 743L1782 728.5L1772.7 709L1761.2 679L1734.5 593L1727.8 577L1721.2 565L1712.2 553L1701.6 543L1690 535.5L1676 529.8L1666 527.5L1654 526.3L1632 528.1L1610 534.7L1592 545L1577 559L1565.5 577L1558.7 597L1556.5 619L1559.3 643L1568 669.1L1582 694.5L1602 720.8L1618 737.2L1630 745.6L1638 748.7L1664 754.5L1678 759L1592 759.3L1590 762.4L1586 762.5L1584 764.5L1572 764.6L1570 766.6L1560 766.8L1558 768.7L1546 768.9L1544 770.9L1539.2 771L1514 786L1462 806.6L1452 811.8L1442 818.7L1430 830.4L1421 843L1412.7 859L1405.6 879L1401.4 897L1398.7 917L1398 937L1399 955L1401.9 973L1406.3 989L1412 1003.3L1420 1017.4L1428 1027.8L1438 1037.4L1450 1045.6L1462 1051.1L1476 1055.3L1492 1057.7L1508 1058.2L1525 1057Z"/>
<path fill="#eae63f" d="M2066 1145L1378 1145L1378 151L2066 151L2066 1145ZM1528.7 1061L1548 1057.4L1568 1051.6L1624 1029L1624.6 1021L1626.7 1019L1627.2 1013L1629.2 1011L1629.8 1003L1631.8 1001L1632 998.3L1668.8 963L1682.6 947L1692.6 933L1700.3 919L1705.5 905L1708.6 891L1709.8 875L1709.2 863L1706.7 849L1692.5 805L1692.1 799L1694 794.9L1698 793.6L1704 794.6L1710 797.3L1718 803L1728 814L1746.9 845L1760.1 861L1769.5 869L1778 874.5L1788 879.4L1798 882.6L1810 884.6L1822 884.4L1834 882L1846 877L1856 870.2L1865 861L1871.5 851L1876 839.2L1877.7 827L1876.4 815L1872.8 805L1866 794.3L1859.3 787L1849.6 779L1816 758.1L1804 749.1L1794 738.5L1785 725L1774.4 703L1763.5 675L1737.2 591L1730.3 575L1723.6 563L1714 550.4L1702 539.3L1690 531.9L1676 526.5L1658 523.3L1640 523.5L1620 527.1L1602 533.9L1586.8 543L1573.6 555L1563.4 569L1556 585L1552.1 599L1550.3 613L1550.4 629L1552.6 645L1556.7 661L1563.5 679L1582.8 719L1587.8 735L1590 735L1592 737L1591.2 761L1590 762.2L1586 762.2L1584 764.2L1572 764.4L1570 766.4L1560 766.5L1558 768.5L1546 768.7L1544 770.7L1534 770.8L1532 772.8L1520.7 773L1502 783.1L1464 798.2L1450 805.4L1434 817.9L1421.6 833L1410.7 853L1402.2 877L1397.7 897L1395.2 917L1394.5 937L1395.8 957L1398.7 975L1403.8 993L1410 1008L1418 1021.7L1427 1033L1438 1043L1450 1050.7L1462 1056L1476 1060L1492 1062.2L1510 1062.6L1528.7 1061Z"/>
<path fill="#e5e646" d="M2066 1145L1378 1145L1378 151L2066 151L2066 1145ZM1514.9 1067L1538 1064.2L1560 1059.1L1582 1052L1622 1036.8L1622.5 1031L1624.6 1029L1625.2 1021L1627.2 1019L1627.7 1013L1629.7 1011L1630 1007.3L1679.5 965L1695.4 949L1706.8 935L1718.3 915L1732 879.5L1738 872.4L1742 871.3L1748 871.9L1778 883.9L1796 888.6L1812 889.9L1828 888L1846 881.2L1860 871.2L1871.7 857L1878.8 841L1880.8 829L1880.1 817L1876.4 805L1870 794.4L1863.6 787L1854 778.5L1820 756.4L1807.7 747L1796.6 735L1786.4 719L1776 697.3L1765.7 671L1739.8 589L1732.8 573L1726 561L1716 547.8L1704.2 537L1692 529.3L1678 523.7L1660 520.2L1640 520L1620 523.2L1600 530.1L1584.3 539L1570.2 551L1559.3 565L1550.3 583L1545.8 599L1543.6 617L1544 635L1547.2 655L1552.2 673L1566.7 715L1568.6 725L1568.5 735L1590 735.3L1591.7 737L1590.9 761L1590 761.9L1586 762L1584 764L1572 764.1L1570 766.1L1560 766.3L1558 768.3L1546 768.4L1544 770.4L1534 770.6L1532 772.6L1520 772.8L1518 774.7L1508 774.9L1506 776.9L1495.3 777L1452 796.1L1436 807.5L1422 823.1L1410 843.5L1400.3 869L1395.4 889L1392.4 909L1391 931L1391.6 951L1393.9 969L1398 987.3L1404 1004.3L1411.4 1019L1420 1031.5L1430 1042.2L1440 1050.1L1452 1057L1466 1062.3L1480 1065.5L1496 1067.1L1514.9 1067Z"/>
<path fill="#e1e64d" d="M2066 1145L1378 1145L1378 151L2066 151L2066 1145ZM1524.7 1071L1544 1068L1562 1063.8L1620 1044.7L1620.5 1039L1622.6 1037L1623 1031L1625.1 1029L1625.7 1021L1627.8 1019L1628 1016L1688.2 971L1709.7 953L1724.1 937L1743.2 907L1750.5 899L1758 895.1L1766 893.9L1798 896L1814 895.4L1828 892.8L1840 888.6L1854 880.5L1866.7 869L1876 855.7L1882 841L1884.1 827L1883.1 815L1879 803L1872.9 793L1866 785L1856 776.3L1822 753.5L1810 743.8L1798.6 731L1788.6 715L1778.9 695L1768.5 669L1742.5 587L1736 572.3L1728.5 559L1718 545.2L1706 534.2L1692 525.6L1678 520.3L1658 516.7L1636 516.8L1614 520.8L1594 528.1L1578 537.5L1562.9 551L1552.5 565L1543.8 583L1537.8 607L1536.7 633L1540.4 661L1553.1 713L1553.7 725L1552 735L1590 735.5L1591.5 737L1590.7 761L1586 761.7L1584 763.7L1572 763.9L1570 765.9L1560 766L1558 768L1546 768.2L1544 770.2L1534 770.3L1532 772.3L1520 772.5L1518 774.5L1508 774.6L1506 776.6L1494 776.8L1492 778.7L1490.2 777L1490 769.5L1454 786.1L1444 792.3L1434 800.3L1419.4 817L1406 840.9L1396 869L1391.5 889L1388.4 911L1387.4 933L1388.3 955L1391.2 975L1395.7 993L1402 1009.8L1410.1 1025L1420 1038.5L1430 1048.5L1442 1057.1L1456 1064.1L1472 1068.9L1488 1071.4L1506 1072.1L1524.7 1071Z"/>
<path fill="#dde553" d="M2066 1145L1378 1145L1378 151L2066 151L2066 1145ZM1512.5 1077L1534 1074.9L1556 1070.8L1618 1052.8L1618.3 1049L1620.4 1047L1621 1039L1623.1 1037L1623.6 1031L1625.7 1029L1626 1024.6L1706.3 973L1722 961.8L1737.6 947L1756 922.9L1764 914.6L1772 909.7L1780 907L1812 902L1826 898.7L1838 894.2L1848 889L1860 880.3L1870.9 869L1878.9 857L1884.7 843L1887.3 829L1886.9 817L1883.6 805L1877 793L1870 784.7L1860 775.6L1824.5 751L1812.5 741L1800.5 727L1790.6 711L1780.9 691L1771.4 667L1745.8 587L1738.9 571L1732 558.6L1722 544.8L1710 533L1696 523.8L1680 517.3L1660 513.4L1636 513.3L1612 517.3L1590.1 525L1572.9 535L1557.2 549L1545.5 565L1536.9 583L1531.1 605L1529.1 629L1531 655L1540 709L1539.7 723L1536.4 735L1590 735.8L1591.2 737L1590.4 761L1586 761.5L1584 763.5L1572 763.6L1570 765.6L1560 765.8L1558 767.8L1546 768L1544 769.9L1534 770.1L1532 772.1L1520 772.3L1518 774.3L1508 774.4L1506 776.4L1494 776.5L1492 778.5L1490.4 777L1490 760.6L1484.4 761L1448 780L1436 788.9L1426 798.7L1416 811.6L1408 825.1L1400.7 841L1394.4 859L1388.9 881L1385.4 903L1383.7 925L1384 947L1386.2 969L1390.4 989L1396.3 1007L1403.8 1023L1412 1035.9L1422 1047.6L1434 1057.9L1446 1065.1L1460 1070.9L1476 1074.9L1494 1077L1512.5 1077Z"/>
<path fill="#d8e459" d="M2066 1145L1378 1145L1378 151L2066 151L2066 1145ZM1529.2 1081L1560 1075.7L1616 1061.1L1616.3 1057L1618.4 1055L1618.9 1049L1621 1047L1621.6 1039L1623.7 1037L1624 1033.1L1666 1008.4L1716.8 983L1734 972.8L1750 959.3L1772.9 931L1784.2 921L1796.1 915L1834 901.4L1854 889.8L1866 879.5L1876 867.5L1883.4 855L1888.6 841L1890.8 827L1890.1 815L1886.6 803L1879.7 791L1864 774.8L1828 749.3L1816 739.2L1804 725.5L1793.7 709L1783.8 689L1774.1 665L1748.4 585L1741.4 569L1733.5 555L1722 539.9L1710 528.7L1694.2 519L1678 513.1L1656 509.6L1630 510.2L1606 514.7L1583.7 523L1566 533.7L1550 548.4L1538.1 565L1529 585L1523.4 607L1521.3 631L1522.3 655L1527 697L1527.1 711L1525.2 723L1520.2 735L1590 736L1591 737L1590.2 761L1586 761.2L1584 763.2L1572 763.4L1570 765.4L1560 765.5L1558 767.5L1546 767.7L1544 769.7L1534 769.9L1532 771.8L1520 772L1518 774L1508 774.2L1506 776.1L1494 776.3L1492 778.3L1490.7 777L1490 759.1L1462 761L1448 769.4L1436 778.3L1426 787.9L1417 799L1408.1 813L1401.1 827L1394 845L1388.6 863L1383.5 887L1380.6 911L1379.7 935L1380.9 959L1384.3 981L1389.6 1001L1396.7 1019L1405.7 1035L1416 1048.5L1427 1059L1440 1068L1454 1074.5L1470 1079.2L1488 1081.9L1508 1082.5L1529.2 1081Z"/>
<path fill="#d3e25f" d="M2066 1145L1378 1145L1378 969.6L1381.7 989L1386.9 1007L1393.4 1023L1402 1038.4L1411.3 1051L1422 1061.9L1434 1070.9L1448 1078.3L1462 1083.2L1478 1086.5L1496 1088.1L1514 1088L1550 1083.8L1614 1069.9L1614.2 1067L1616.3 1065L1616.9 1057L1619 1055L1619.5 1049L1621.6 1047L1622 1041.7L1668 1017.9L1726.8 995L1746.3 985L1756 978L1765.3 969L1787.6 939L1797.1 929L1808.5 921L1844 901.8L1860 890L1874 875.6L1884.9 859L1892 841L1894.5 823L1893.5 813L1890.6 803L1885.4 793L1879.3 785L1864.3 771L1833.3 749L1821.1 739L1809.9 727L1799 711L1788 689.9L1778 665.9L1756.6 599L1748.4 577L1738 556.3L1725.6 539L1716 529.3L1706 521.6L1694 515L1682 510.6L1668 507.5L1654 506L1638 506L1622 507.5L1600 512.2L1581.2 519L1563.3 529L1548.7 541L1536.7 555L1526.2 573L1518.8 593L1514.3 615L1512.6 641L1514.6 689L1514 705L1510.2 721L1501.9 735L1590 736.3L1590.7 739L1590 760.8L1583.8 761L1581.8 763L1572 763.1L1570 765.1L1560 765.3L1558 767.3L1546 767.5L1544 769.5L1534 769.6L1532 771.6L1520 771.8L1518 773.8L1508 773.9L1506 775.9L1494 776L1492 778L1490.9 777L1490 745.6L1465 759L1442.9 761L1430 772.1L1420 783L1410 797.1L1401.2 813L1393.5 831L1386.9 851L1381.6 873L1378 895L1378 151L2066 151L2066 1145Z"/>
<path fill="#cfe165" d="M2066 1145L1378 1145L1378 993.5L1383.2 1011L1389.8 1027L1397.5 1041L1406 1053.1L1416 1064.1L1426.6 1073L1438 1080.2L1452 1086.4L1466 1090.5L1480 1092.9L1496 1094.2L1514 1094.1L1548 1090.6L1612 1079.1L1612.2 1077L1614.3 1075L1614.9 1067L1617 1065L1617.6 1057L1619.7 1055L1620 1050.5L1650 1036.1L1672 1027.2L1742 1006.4L1757.3 999L1770 989.7L1783.2 975L1801.7 945L1811.3 933L1822.7 923L1858 897.1L1868 887.7L1877.2 877L1885.3 865L1892.2 851L1896.6 837L1898.2 823L1897.5 813L1894.9 803L1889.9 793L1884.1 785L1868 769.7L1836.4 747L1824.3 737L1813.1 725L1802 709L1791.4 689L1781.2 665L1759.2 597L1750.9 575L1740 553.7L1728.1 537L1720 528.4L1710 520.2L1700 514L1688 508.8L1676 505.4L1662 503.2L1646 502.3L1630 502.9L1614 504.9L1598 508.4L1583.5 513L1569.8 519L1556.3 527L1546 535L1536.1 545L1528.2 555L1520.9 567L1515.3 579L1507 607L1503.4 635L1501.5 691L1499.1 705L1495.6 715L1487.9 727L1477 737L1442.2 759L1427.8 761L1417.4 773L1405.3 791L1394 813.9L1385 839L1378 866.6L1378 151L2066 151L2066 1145ZM1492 777.8L1491.2 777L1490.1 737L1492 735.1L1590.5 737L1590 760.1L1566.3 761L1562.1 765L1560 765L1558 767L1546 767.2L1544 769.2L1534 769.4L1532 771.4L1520 771.5L1518 773.5L1508 773.7L1506 775.6L1494 775.8L1492 777.8Z"/>
<path fill="#cae06b" d="M2066 1145L1378 1145L1378 1011.6L1384 1027L1391 1041L1398.6 1053L1408 1064.6L1418 1074.2L1428 1081.7L1440 1088.5L1452 1093.4L1466 1097.3L1480 1099.6L1512 1100.9L1542 1098.5L1610 1089.1L1610.3 1085L1612.4 1083L1612.8 1077L1614.9 1075L1615.5 1067L1617.6 1065L1618 1059.6L1648 1046.8L1672 1038.7L1692 1034L1732 1026.8L1750 1021.9L1768 1013.9L1782 1003.7L1790 995.2L1797.1 985L1815 949L1822.7 937L1833.5 925L1866 895.3L1884.2 873L1891.3 861L1897.3 847L1901.1 833L1902.3 821L1901.5 811L1898.7 801L1893.5 791L1887.4 783L1872 768.5L1839.5 745L1827.5 735L1814.7 721L1804 705.2L1794 686.3L1784 662.9L1762 595.9L1754 574.8L1743.1 553L1730.6 535L1722 525.7L1712 517.3L1702 511.1L1692 506.5L1680 502.8L1666 500.1L1636 499L1618 500.5L1600 503.6L1584 507.9L1568 514.1L1554.9 521L1542 530L1532 539.1L1521.9 551L1508.9 573L1499 601L1494.1 627L1488.2 683L1485.4 695L1481.6 705L1474 717.1L1461.9 729L1438 747.6L1425.6 759L1414.9 761L1403.1 779L1394 797L1385.2 819L1378 842.8L1378 151L2066 151L2066 1145ZM1492 777.5L1490.4 737L1492 735.4L1590.2 737L1590 759.4L1550.9 761L1541.8 769L1534 769.1L1532 771.1L1520 771.3L1518 773.3L1508 773.4L1506 775.4L1494 775.6L1492 777.5Z"/>
<path fill="#c5de71" d="M2066 1145L1378 1145L1378 1027.8L1387.5 1047L1399.8 1065L1413.2 1079L1428 1090L1444 1098.1L1462 1103.8L1482 1107.2L1506 1108.3L1532 1107.2L1588 1101.1L1608 1100.2L1608.3 1095L1610.4 1093L1611 1085L1613.1 1083L1613.5 1077L1615.6 1075L1616 1069.1L1646 1057.9L1670 1051.4L1690 1048L1734 1043.4L1752 1040L1768 1034.9L1782 1027.8L1796 1016.4L1807.5 1001L1814.2 987L1827.4 951L1836.3 935L1845.8 923L1874 892.5L1890 870.2L1897 857L1902.5 843L1905.6 831L1906.8 819L1906 809L1903.2 799L1899 791L1893.1 783L1876 767.1L1842.8 743L1830.8 733L1818 719.2L1808 704.7L1797.3 685L1786.9 661L1764.1 593L1756 572L1745.4 551L1733 533L1716 516.1L1706 509.3L1696 504.3L1684 500.1L1672 497.5L1644 495.3L1624 496.1L1604 498.6L1584.4 503L1568 508.4L1553.4 515L1540 523.1L1527.6 533L1516.2 545L1501.7 567L1490.9 593L1484.2 619L1474.6 673L1466.8 695L1460.8 705L1454.4 713L1426 741.8L1411.8 759L1403 761L1389.8 787L1378 819.3L1378 151L2066 151L2066 1145ZM1492 777.3L1490.6 737L1492 735.6L1587.9 737L1587.4 743L1584.9 749L1575.7 759L1536.3 761L1523.7 771L1520 771.1L1518 773L1508 773.2L1506 775.2L1494 775.3L1492 777.3Z"/>
<path fill="#c0dd77" d="M2066 1145L1378 1145L1378 1043.5L1388.1 1061L1400 1076.3L1414 1089.6L1428 1099.2L1444 1106.8L1462 1112.2L1482 1115.4L1506 1116.6L1532 1115.9L1582 1112.4L1604 1112.6L1606.1 1111L1606.6 1103L1608.7 1101L1609.1 1095L1611.2 1093L1611.7 1085L1613.8 1083L1614 1079.4L1644 1069.8L1668 1064.8L1690 1062.6L1736 1060.9L1756 1058.4L1776 1053L1792 1045.3L1807.2 1033L1818.6 1017L1826 999L1836.3 959L1842.3 943L1851.6 927L1882 888.5L1895.9 867L1902.7 853L1907.9 839L1910.8 827L1912 815L1911 805L1908.5 797L1904 789L1897.6 781L1882.2 767L1836 732.6L1822.8 719L1811.3 703L1800.3 683L1790 659.7L1767.2 593L1758 569.5L1747.6 549L1735.4 531L1718 513.3L1700 502.1L1678 495L1652 491.9L1630 492L1608 494L1586 497.9L1567.3 503L1551.7 509L1536 517.2L1522.2 527L1509.6 539L1494.6 559L1481.8 585L1473.2 611L1460 663L1451.1 685L1441.1 701L1412 738.5L1398.9 759L1391.1 761L1378 793.4L1378 151L2066 151L2066 1145ZM1492 777L1490.9 737L1492 735.9L1568.1 737L1562.7 749L1553.4 759L1521.2 761L1504 772.6L1499.4 775L1494 775.1L1492 777Z"/>
<path fill="#bcdb7d" d="M2066 1145L1378 1145L1378 1059.5L1393.2 1081L1410 1097.5L1428 1109.5L1450 1118.7L1470 1123.3L1494 1125.8L1520 1126.3L1576 1125.1L1602 1127.5L1602.3 1121L1604.4 1119L1604.8 1113L1606.9 1111L1607.3 1103L1609.4 1101L1609.8 1095L1611.9 1093L1612 1090.7L1641.3 1083L1666 1079.4L1686 1078.6L1736 1079.8L1760 1078.1L1784 1072.7L1804 1063.5L1812 1057.9L1820 1050.2L1826 1042.3L1831.1 1033L1837.7 1013L1846 963L1851.7 943L1860.9 925L1890 883.6L1903.1 861L1914.4 833L1917.3 821L1918.4 809L1917.4 801L1915.4 795L1910.5 787L1905.3 781L1889.2 767L1840 731L1828 719L1815.9 703L1804.3 683L1794 660.5L1768.9 589L1760 567L1748.6 545L1736 526.9L1720.5 511L1704 500.1L1684 492.7L1660 488.9L1638 488.2L1612 489.6L1588 492.8L1566 497.7L1546 504.4L1530 511.8L1515.4 521L1501.2 533L1484.5 553L1470.8 577L1461 601L1443.7 653L1432 678.7L1401.2 729L1385.9 759L1378.5 761L1378 762.4L1378 151L2066 151L2066 1145ZM1494 767.4L1492 768.4L1491.1 737L1492 736.1L1551.3 737L1544.5 749L1534.5 759L1504.5 761L1494 767.4Z"/>
<path fill="#b7da83" d="M2066 1145L1598.1 1145L1598.3 1141L1600.4 1139L1600.7 1131L1602.8 1129L1603.1 1121L1605.2 1119L1605.5 1113L1607.6 1111L1608 1104.1L1636 1098.2L1660 1095.9L1682 1096.3L1738 1100.7L1756 1100.6L1772 1099.1L1790 1095.4L1806 1089.9L1820 1082.3L1832 1072.1L1842 1057.9L1848.6 1039L1851.5 1019L1854.9 967L1857.3 953L1860.8 941L1869.2 923L1898.5 877L1912.3 851L1925.4 817L1928.1 805L1927.8 797L1923.9 789L1916.1 781L1848 732.5L1833.4 719L1820.6 703L1808.5 683L1797.1 659L1771.1 587L1761.2 563L1749.4 541L1736 522.2L1720 506.3L1704 496.1L1686 489.5L1664 485.7L1640 484.6L1612 485.7L1584 488.8L1558 493.9L1536 500.5L1518 508.1L1502.7 517L1487.4 529L1477.5 539L1467.8 551L1450.9 579L1419.2 653L1391 711L1378 741.1L1378 151L2066 151L2066 1145ZM1514 759.1L1492 760.5L1492 736.4L1535.4 737L1526 750.1L1518.1 757L1514 759.1ZM2003.8 795L2016.9 791L2024.3 785L2026.2 781L2026.5 777L2024.9 773L2020.9 769L2009.9 765L2002 764.6L1994 765.7L1980.1 771L1974.7 775L1971.4 779L1970.3 785L1972.8 789L1976 791.3L1988.2 795L2003.8 795ZM1584 1145L1378 1145L1378 1076.7L1392 1094.3L1408 1109L1426 1120.6L1444 1128.3L1462 1133.3L1482 1136.6L1560 1140.7L1585 1145L1584 1145Z"/>
<path fill="#b2d989" d="M2066 1145L1599 1145L1599.1 1141L1601.2 1139L1601.5 1131L1603.6 1129L1603.9 1121L1608 1119.1L1634 1115.6L1656 1115.1L1676 1116.8L1736 1124.7L1756 1125.5L1774 1124.8L1794 1122.1L1814 1116.7L1830 1109.6L1842.8 1101L1850.9 1093L1856.5 1085L1861.1 1075L1864.1 1063L1865.5 1041L1863.3 973L1865.1 955L1869 939L1878.8 917L1906.5 871L1932 822.8L1942 810.5L1946 807.9L1952 806L2002 807.1L2017.2 805L2030.1 801L2040 795.4L2046.5 789L2050 781L2049.7 773L2045.3 765L2036 758.1L2024 754.1L2008 752.8L1994 754.3L1980 758L1942 775L1936 775.9L1930 775.4L1918 771.3L1902 763L1874 745.9L1854 731.9L1841.2 721L1830.2 709L1820 695L1810.6 679L1795.8 647L1766 567.1L1756 546.8L1744 527.8L1728 509L1713 497L1696 488.7L1674 483.3L1652 481.3L1624 481.2L1592 483.2L1562 487.1L1538 491.8L1516 498L1496 506L1479.7 515L1464 526.5L1450.8 539L1438.9 553L1426.3 571L1414.6 591L1402.6 615L1389.5 645L1378 674.7L1378 157.4L1445.7 151L2066 151L2066 1145ZM1492 759L1492 736.7L1518.9 737L1508 749.1L1492 759ZM1448 1145L1378 1145L1378 1096.6L1392 1111.9L1408 1125L1426 1135.8L1448.9 1145L1448 1145Z"/>
<path fill="#add78f" d="M1938 763.1L1928 763.8L1918 762.2L1906 758L1894 752.2L1859.9 731L1847.5 721L1835.7 709L1820.9 689L1806.6 663L1795.4 637L1770.6 571L1753.4 537L1741 519L1728 504.5L1714 493.4L1700 486.3L1688 482.4L1672 479.3L1634 477.3L1576 479.9L1518 486.5L1478 494.3L1442.2 505L1409 519L1378 536.7L1378 344.7L1406.7 313L1433.7 287L1460.9 265L1490 245.8L1520 230L1554 216.5L1590 206.2L1626 199.3L1812 177.3L1848 175.7L1882 177.3L1926 184.4L1972 197.5L2018 215.9L2066 240.3L2066 759.3L2058 752.9L2046 747.6L2032 744.6L2016 743.8L2000 745.2L1984 748.5L1938 763.1ZM1492 744.2L1492 736.9L1500.1 737L1492 744.2ZM2066 1145L1837.2 1145L1854.3 1137L1868.5 1127L1878 1116.4L1884.5 1103L1886.7 1091L1886.7 1079L1872.7 995L1871.5 971L1873.2 951L1877.1 935L1884.6 917L1930 839L1942 825.1L1954 818.7L1968 816.6L2010 815.3L2030 812.4L2042.6 809L2052 805.2L2059.2 801L2066 795.3L2066 1145ZM1404 1145L1378 1145L1378 1121.7L1392 1135L1404.7 1145L1404 1145ZM1682 1145L1599.8 1145L1600 1141L1602 1139.6L1628 1138.1L1654 1139.8L1683.5 1145L1682 1145Z"/>
<path fill="#a8d595" d="M1930 755L1920 754.6L1908 751.8L1882 739.8L1867.8 731L1854.4 721L1844 711.5L1834.6 701L1820.6 681L1807.7 657L1797.2 633L1774 572.4L1758 539.6L1747.4 523L1736 508.4L1726 498.3L1714 489.2L1702 483L1690 479L1676 476.2L1660 474.5L1622 473.6L1526 475.6L1490 473.5L1474 470.4L1462 466.3L1452 460.9L1442.6 453L1433.2 439L1427.8 421L1426.9 401L1430.3 379L1438.4 355L1449.7 333L1463.5 313L1481.6 293L1506 272.5L1536 254.1L1568 240.3L1602 230.5L1626 226.1L1652 223.2L1740 219.1L1816 211.4L1848 209.9L1876 211.2L1902 214.8L1930 221.4L1956 230L1984 241.8L2012 256.3L2040 273.6L2066 292.4L2066 738.1L2040 735.2L2010 736.7L1986.4 741L1946 752.4L1930 755ZM2066 1145L1924.3 1145L1928 1131L1926.5 1117L1920.2 1099L1897 1049L1887.2 1021L1880.2 987L1879 971L1879.6 955L1882.9 937L1888.5 921L1897.4 903L1914 874.5L1926 855.1L1936 841.7L1946 832.8L1956 827.9L1974 824.6L2034 821.2L2066 815.6L2066 1145Z"/>
<path fill="#a2d49b" d="M1934 747.2L1922 747.5L1912 746.1L1900 742.4L1886 736.1L1872 728.1L1859.3 719L1848 709.1L1838 698.4L1824 679L1810 653.8L1799 629L1775.3 569L1760 538L1749.3 521L1738 506.2L1728 495.6L1716 486.2L1706 480.6L1696 476.7L1670 471.6L1642 469.9L1560 468.8L1524 465.2L1510 461.9L1496.8 457L1486.2 451L1476.8 443L1466.9 429L1461.3 413L1459.4 395L1461.4 375L1467.2 355L1476.8 335L1488.9 317L1505.2 299L1528 280.4L1554 265.2L1582 253.7L1614 245.4L1634 242.3L1656 240.4L1748 239.7L1828 232.3L1864 232L1890 234.7L1916 240.1L1942 248.3L1968 259.3L1994 273.3L2020 290.2L2044.1 309L2066 329.2L2066 722.2L2004 731.1L1948 744.7L1934 747.2ZM2054 1123.1L2030 1124.6L2006 1121L1982 1112.7L1958 1099L1938 1082.7L1920 1062.4L1905.2 1039L1894 1012.4L1888.1 989L1885.8 965L1887.7 943L1893.3 923L1908.1 893L1930 858.5L1944 843.5L1952 838.3L1960 835L1972 832.3L1990 830.8L2066 829.9L2066 1120.3L2054 1123.1Z"/>
<path fill="#9cd2a0" d="M1944 739.1L1930 740.8L1918 740.4L1906 738.1L1894 733.9L1880 727L1866 718.1L1854 708.4L1842 696.3L1826 674.9L1812 650.1L1800.6 625L1776.3 565L1760 533L1749.8 517L1738 501.6L1728 491.1L1718 483.1L1700 473.9L1676 468.5L1652 466.5L1580 464.1L1544 459.7L1530 456.1L1517.1 451L1506.8 445L1497.5 437L1488.6 425L1482.3 409L1480.2 393L1481.4 375L1486.1 357L1494.3 339L1504.8 323L1518.9 307L1540 289.5L1564 275.5L1592 264.4L1620 257.7L1642 254.8L1666 253.5L1756 255.5L1830 248.4L1864 247.9L1888 250.3L1912 255.3L1934 262.2L1958 272.4L1982 285.4L2004 300L2025.5 317L2044.7 335L2066 359.1L2066 706.9L2054 712.1L2037.8 717L1944 739.1ZM2014 1091L1992 1089.2L1972 1083.5L1954 1074.5L1936 1060.9L1921.4 1045L1908.5 1025L1899.2 1003L1893.8 981L1892.2 959L1894.4 939L1900.4 919L1912.1 895L1928 869.9L1942 853.8L1956 844.4L1974 839.1L1994 837.3L2024 837.3L2048 839.1L2066 842.6L2066 1077.2L2052 1083.6L2040 1087.5L2028 1089.9L2014 1091Z"/>
<path fill="#97d0a6" d="M1944 733.2L1930 734.6L1918 734.2L1906 732L1894 727.9L1880 721.1L1867.3 713L1854.9 703L1844 691.9L1828 670.8L1814 646.6L1803 623L1778 562.8L1761.7 531L1750.2 513L1740 499.4L1728 486.6L1718 478.6L1702 470.4L1680 465.1L1658 463L1592 459.9L1558 455.1L1543.5 451L1532 446.2L1522 440.2L1513.6 433L1504.5 421L1498.6 407L1496.1 391L1497 375L1501 359L1508 343L1518.3 327L1530.6 313L1550 297L1572 284.2L1598 274.1L1626 267.7L1646 265.5L1668 264.8L1734 268.6L1756 268.9L1778 267.4L1832 261.1L1866 260.6L1888 262.9L1910 267.5L1930 273.9L1950 282.3L1972 294.1L1991.6 307L2010 321.4L2029 339L2048.6 361L2066 385.1L2066 691.1L2050 702.5L2028 711.9L1984 724.3L1944 733.2ZM2024 1073.2L2004 1074.7L1984 1072.2L1964 1065.4L1946 1054.8L1930.5 1041L1918 1024.9L1908 1005.9L1901.3 985L1898.5 965L1899.1 945L1903.7 925L1912 905L1926 881.3L1940 863.9L1954 853L1962 849.2L1972 846.3L1996 843.6L2024 844.4L2048 848.2L2066 854.5L2066 1056.3L2046 1066.9L2024 1073.2Z"/>
<path fill="#91cfac" d="M1948 727.1L1934 728.6L1920 728.5L1908 726.5L1896 722.9L1882 716.4L1870 708.9L1858 699.5L1846 687.6L1830 667L1816 643.3L1804 618.2L1778 557.1L1762 526.8L1740 494.8L1730 483.8L1720 475.4L1704 466.7L1684 461.5L1664 459.4L1602 455.9L1569.8 451L1556 447L1544 441.9L1534 435.7L1526.3 429L1517.2 417L1512.1 405L1509.6 391L1510 377L1513.6 361L1519.4 347L1528.1 333L1540.1 319L1558 304.1L1580 291.5L1604 282.5L1630 276.9L1650 274.9L1670 274.7L1734 279.9L1758 280.5L1780 278.8L1834 271.8L1866 271L1888 273.3L1908 277.5L1928 283.9L1946 291.6L1966 302.4L1984 314.3L2002 328.5L2017.6 343L2032.4 359L2045 375L2057.1 393L2066 408.8L2066 674L2058.7 683L2050.1 691L2040 698L2028 704.3L1992 716.8L1948 727.1ZM2020 1061.2L2000 1062.6L1982 1060.2L1964 1054L1948 1044.6L1934 1032.4L1921.9 1017L1912.6 999L1906.4 979L1904.1 959L1905.6 939L1910.4 921L1919.5 901L1932 881.5L1946 866.3L1960 857.2L1976 852L2000 849.7L2026 851.6L2048 857L2066 866L2066 1040.5L2056 1047.5L2044 1053.9L2032 1058.4L2020 1061.2Z"/>
<path fill="#8ccdb2" d="M1938 723L1924 723.2L1912 721.7L1900 718.6L1888 713.7L1876 707L1864 698.5L1844 679L1830 660.3L1816 636.5L1780 555.9L1764 525.5L1742 492.7L1732 481.1L1722 472.1L1706 462.9L1688 457.9L1668 455.6L1610 452L1578 446.6L1566 443L1554 437.7L1544 431.3L1537 425L1529.3 415L1524 403L1521.6 391L1521.7 377L1524.7 363L1530.5 349L1539.5 335L1550.1 323L1566 310L1586 298.7L1608 290.5L1632 285.4L1652 283.6L1672 283.8L1734 290.2L1758 291L1780 289.2L1836 280.9L1870 280.2L1888 282.2L1908 286.6L1926 292.4L1944 300.2L1962 310L1980 322.1L1996.1 335L2012 350L2028.8 369L2043.3 389L2055.3 409L2066 431.3L2066 655.7L2058.1 669L2048.3 681L2036.7 691L2023.6 699L2005.4 707L1982 714.5L1958 720.2L1938 723ZM2018 1051.2L2000 1052.7L1982 1050.4L1966 1045.1L1950 1035.9L1936 1023.4L1925.1 1009L1917.1 993L1911.8 975L1909.8 955L1911.5 937L1916.6 919L1925.1 901L1936 884.8L1949.6 871L1962 863.3L1978 858L2002 856L2028 859L2048 865.8L2057.4 871L2066 877.5L2066 1026.6L2055.8 1035L2044 1042.3L2032 1047.5L2018 1051.2Z"/>
<path fill="#86cbb8" d="M1946 717.2L1932 718.1L1918 717.3L1906 714.9L1894 710.8L1882 704.9L1870 697.2L1858 687.4L1847.6 677L1832 657L1818 633.7L1806.8 611L1781.1 553L1764 520.9L1742 487.9L1732 476.1L1722 467.1L1708 458.9L1690 453.7L1672 451.6L1618 448.1L1587.6 443L1565.5 435L1556 429.3L1548.4 423L1540.3 413L1535.4 403L1532.6 391L1532.4 379L1535 365L1539.8 353L1547 341L1557.1 329L1574 315.2L1592 305.2L1612 297.9L1634 293.3L1652 291.8L1672 292.1L1734 299.7L1756 300.7L1778 298.9L1836 289.1L1868 288L1886 289.7L1904 293.4L1920 298.2L1938 305.6L1954 313.9L1972 325.5L1988 337.9L2002.3 351L2023.6 375L2040.4 399L2054.5 425L2066 453.8L2066 635.8L2058.4 653L2048.4 669L2037.6 681L2026 690.2L2010 699.2L1990.1 707L1968 713.3L1946 717.2ZM2012 1043.1L1996 1043.8L1980 1041.3L1964 1035.3L1950 1026.5L1938 1015.1L1928 1001.1L1920.6 985L1916.6 969L1915.4 951L1917.7 933L1923.7 915L1932 899.4L1942 886.1L1954.2 875L1968 867.5L1984 863.2L2008 862.5L2030 866.6L2040 870.4L2050 875.8L2058 881.6L2066 889.3L2066 1013.5L2054 1024.9L2042 1033L2028 1039.3L2012 1043.1Z"/>
<path fill="#80cabd" d="M1938 713.1L1926 713L1914 711.5L1902 708.4L1890 703.6L1868 690.2L1856 679.8L1846 669.3L1832 650.9L1818 627.5L1782 549.7L1764 516.5L1740 480.5L1730 468.9L1722 461.8L1708 453.8L1692 449.3L1624 444L1595.2 439L1573.7 431L1564 425L1557 419L1549.3 409L1544.9 399L1542.8 389L1542.8 377L1545.4 365L1550 353.9L1556.8 343L1565.6 333L1580.3 321L1598 311.3L1618 304.4L1638 300.7L1656 299.6L1674 300.2L1734 308.9L1756 309.9L1778 307.7L1836 296.6L1854 295L1872 295.3L1890 297.4L1906 300.9L1922 306.1L1940 313.9L1956 322.8L1972 333.6L1986.1 345L2000 358.1L2021.3 383L2039.6 411L2054.8 443L2065.3 475L2066 478L2066 613.6L2059 635L2049.3 655L2038 670.9L2025.4 683L2008 694.1L1986 703.4L1962 709.9L1938 713.1ZM2010 1035.2L1994 1035.7L1980 1033.3L1966 1028L1952 1019.1L1940 1007.2L1931.7 995L1925.6 981L1921.8 965L1921 949L1923.2 933L1928.5 917L1937.2 901L1946.9 889L1958 879.7L1971 873L1986 869.2L1998 868.3L2010 869L2022 871.4L2032 874.7L2042 879.6L2050 885L2058.8 893L2066 902L2066 1000L2055 1013L2042 1023.3L2026 1031.2L2010 1035.2Z"/>
<path fill="#7bc8c3" d="M1952 707.1L1938 708.4L1924 708L1910 705.7L1898 701.9L1884 695.4L1872 687.8L1860 678.1L1850 668.2L1834 648.1L1820 625.3L1782.1 545L1762 508.7L1740 475.3L1730 463.4L1722 456.3L1710 449.2L1694 444.6L1630 439.8L1604 435.4L1582 427.3L1567.3 417L1560.4 409L1555.3 399L1552.8 389L1552.5 379L1554.2 369L1557.8 359L1563.5 349L1571.7 339L1584 328.4L1600 319L1618 312.3L1638 308.3L1656 307.2L1674 308L1732 317.6L1754 318.9L1776 316.3L1834 303.6L1852 301.7L1870 301.5L1886 303.1L1902 306.2L1918 311.1L1934 317.6L1950 326.1L1964 335.1L1990.5 357L2010.7 379L2029.1 405L2043.2 431L2055 461L2061.6 485L2066 509.1L2066 584.1L2060.5 611L2052.4 635L2042 655L2030 670.7L2016 683L1998 693.5L1976 701.8L1952 707.1ZM2012 1027.1L1998 1028.3L1984 1026.7L1970 1022.1L1958 1015.1L1946.6 1005L1938 993.5L1931.9 981L1927.9 967L1926.5 953L1927.9 937L1932.6 921L1939.8 907L1949.1 895L1960 885.6L1972 879.3L1984 875.8L1996 874.6L2010 875.5L2022 878.3L2033.6 883L2043.3 889L2052.3 897L2060 906.5L2066 917.1L2065.7 985L2056 1000.5L2044 1012.4L2028 1022.1L2012 1027.1Z"/>
<path fill="#75c6c8" d="M1948 703.2L1934 703.9L1922 703.1L1908 700.4L1896 696.2L1884 690.4L1872 682.7L1860 672.8L1848.4 661L1834 642.6L1820.7 621L1783.5 543L1762 504.3L1738 467.1L1730 457.6L1722 450.3L1710 443.4L1696 439.5L1636 435.3L1610.4 431L1590 423.5L1575.3 413L1568.8 405L1564.9 397L1562.8 389L1562.3 379L1564 369.4L1567.1 361L1573 351L1579.7 343L1591.6 333L1606 324.8L1622 319.1L1640 315.6L1656 314.7L1674 315.7L1730 326.3L1752 327.7L1774 324.7L1834 309.8L1854 307.5L1872 307.4L1888 309.1L1902 312L1916 316.2L1932 322.7L1946 330L1962 340.2L1988 361.9L2007.1 383L2022.9 405L2037.3 431L2048.8 459L2056.7 487L2061.8 517L2063.4 547L2061.7 577L2056.6 605L2048.9 629L2039.1 649L2026 666.8L2010 680.9L1992.2 691L1970 699L1948 703.2ZM1998 1021L1986 1019.8L1974 1016.2L1962 1009.7L1952 1001.3L1943.8 991L1937.5 979L1933.8 967L1932.2 953L1933.2 939L1937 925L1942.7 913L1951.5 901L1960.2 893L1972 886.1L1984 882.3L1996 880.9L2010 882L2022 885.3L2034 891.2L2044.2 899L2052.9 909L2059.8 921L2063.9 933L2066 947.3L2065.3 961L2061.9 975L2056 987.5L2047.4 999L2036 1009L2024 1015.7L2012 1019.5L1998 1021Z"/>
<path fill="#70c5cd" d="M1946 699.1L1932 699.5L1920 698.4L1906 695.2L1894 690.7L1882 684.4L1870 676.3L1858 666L1848 655.5L1834 637.3L1821.5 617L1783.8 539L1756 489.7L1736 458.4L1722 443.7L1712 437.8L1698 433.8L1642 430.5L1618 426.7L1598 419.4L1584 409.4L1578.7 403L1574.6 395L1572.6 387L1572.3 379L1573.6 371L1576.6 363L1581.2 355L1587.9 347L1598 338.6L1611.6 331L1626 325.9L1640 323.2L1656 322.3L1672 323.2L1690 326.3L1728 335.2L1750 336.7L1772 333L1814 320.3L1832 316L1852 313.2L1872 312.8L1886 314.1L1902 317.3L1918 322.3L1932 328.2L1946 335.7L1960 344.8L1986 366.7L2004.2 387L2020.9 411L2033.9 435L2044.4 461L2052.3 489L2057 517L2058.7 547L2057.1 575L2052.5 601L2045 625L2035.4 645L2022.5 663L2008 676.3L1990 687L1968 695.1L1946 699.1ZM2006 1013.2L1994 1013.7L1982 1011.6L1972 1007.7L1961.5 1001L1953.2 993L1946 982.6L1941.1 971L1938.5 959L1938.2 945L1940.4 933L1944.9 921L1951 911L1958 903L1968 895.3L1978 890.6L1990 887.9L2002 887.7L2014 889.8L2026 894.6L2035.7 901L2044 909.1L2050.8 919L2055.9 931L2058.4 943L2058.7 955L2056.7 967L2052.3 979L2046.2 989L2038 998.1L2028 1005.4L2018 1010.2L2006 1013.2Z"/>
<path fill="#6ac4d1" d="M1944 695L1930 695.1L1918 693.7L1906 690.7L1894 686.2L1882 679.8L1870 671.6L1858 661.2L1848 650.6L1834.5 633L1822 612.7L1784 534.9L1746 467.3L1734 448.7L1724 437.8L1714 431.3L1700 427.2L1648 425.1L1624 421.5L1606 415L1594 406.7L1589 401L1585.5 395L1583.5 389L1582.6 381L1583.6 373L1586.5 365L1596 351.7L1606 343.6L1616 338L1628 333.7L1642 330.9L1658 330.2L1674 331.6L1690 334.9L1726 344.6L1746 346.1L1768 341.9L1810 327.4L1830 321.8L1852 318.3L1872 317.8L1888 319.4L1902 322.2L1916 326.6L1930 332.4L1956 347.5L1982 369.1L2000.1 389L2017 413L2030 437L2040.5 463L2048.3 491L2052.7 517L2054.4 545L2052.9 573L2048.4 599L2040.8 623L2031 643L2018 660.7L2004 673.4L1986 684.1L1966 691.3L1944 695ZM2008 1005.4L1998 1006.5L1988 1005.6L1978 1002.7L1968 997.3L1960 990.6L1952.6 981L1947.7 971L1945 961L1944.1 951L1945.2 939L1948.9 927L1954 917.5L1960 910L1968.2 903L1978 897.8L1988 895L2000 894.4L2010 895.9L2020 899.5L2029.2 905L2037.8 913L2043.6 921L2048.2 931L2050.8 941L2051.5 953L2050.2 963L2047 973L2042 982.2L2036 989.7L2027.5 997L2018 1002.2L2008 1005.4Z"/>
<path fill="#65c3d6" d="M1942 691.1L1920 689.9L1898 683.6L1878 672.9L1858 656.6L1840.8 637L1825 613L1782.1 527L1742 453.5L1730 435L1720 425.6L1708 420.3L1696 418.7L1660 419.1L1642 417.8L1624 413.9L1610 407.5L1604.1 403L1598.9 397L1595.7 391L1594 383.4L1594.2 377L1596.4 369L1604.6 357L1614 349.4L1626 343.5L1640 339.7L1654 338.5L1666 339.2L1680 341.6L1726 355.7L1736 356.7L1744 356.3L1762 351.9L1806 334.4L1826 328L1850 323.3L1872 322.4L1886 323.7L1900 326.4L1914 330.5L1928 336.2L1942 343.6L1956 352.7L1980.1 373L1998 393L2013.4 415L2026.4 439L2036.9 465L2044.7 493L2048.9 519L2050.4 547L2048.8 573L2044.6 597L2036.9 621L2027 641L2015.2 657L2000 670.9L1982.6 681L1962 688.1L1942 691.1ZM2010 997L2002 998.6L1992 998.6L1982 996.3L1974 992.6L1966.5 987L1960 979.7L1955 971L1952.2 963L1950.7 953L1951.1 943L1953.6 933L1957.2 925L1962.8 917L1970 910.3L1978 905.5L1986 902.8L1994 901.6L2004 902.1L2012 904.2L2020 907.8L2028 913.7L2034 920.3L2039.3 929L2042.2 937L2043.7 945L2043.8 955L2041.8 965L2038 974.1L2032 982.7L2026 988.5L2018 993.8L2010 997Z"/>
<path fill="#5dc1db" d="M1942 687.1L1928 686.9L1916 685.1L1904 681.8L1890 675.7L1878 668.6L1866 659.5L1854.8 649L1844.4 637L1832 619.7L1821 601L1790.6 539L1759.5 481L1738 436.9L1730 423.3L1724 416.2L1716 410.7L1708 408.5L1654 411L1638 408.9L1624 404.1L1618 400.5L1612.2 395L1607.4 385L1607 379L1608.3 373L1611.4 367L1616 361.6L1624 355.6L1634.7 351L1646 348.6L1660 348.3L1672 350L1682.9 353L1720 368.7L1726 369.9L1734 369.9L1752 364.7L1798 343.1L1822 334L1848 328.1L1874 326.9L1888 328.3L1902 331.2L1928 340.7L1954 356.1L1978.6 377L1994.7 395L2010.2 417L2023.2 441L2033 465L2040.4 491L2045 517L2046.7 545L2045.2 571L2041 595L2033.3 619L2024 637.7L2012 654.1L1998 667.1L1981.5 677L1962 684L1942 687.1ZM2006 989.6L1998 990.7L1990 990.1L1982 987.7L1976 984.5L1970 979.7L1964.6 973L1958.8 959L1957.9 951L1958.5 943L1960.6 935L1964 928L1968 922.5L1974 916.9L1980.5 913L1988 910.4L1996 909.5L2004 910.2L2012 912.8L2018 916.1L2023.9 921L2028.9 927L2032.2 933L2034.9 941L2035.9 949L2035.3 957L2030.3 971L2026 977.1L2020 982.8L2013.1 987L2006 989.6Z"/>
<path fill="#52bee0" d="M1944 683.1L1930 683.2L1918 681.6L1904 677.8L1892 672.8L1880 665.9L1868 657.1L1856 646L1846.3 635L1832 615.1L1819.3 593L1792 537.4L1761.1 479L1744.9 441L1733.2 405L1732.9 397L1736.5 389L1747.3 379L1771.5 363L1794 350.5L1816 340.8L1832 335.7L1848 332.3L1864 330.9L1878 331.2L1894 333.4L1908 337L1922 342.2L1938 350.3L1952 359.2L1966 370.3L1979.4 383L1991.7 397L2002 411L2012 427L2020.2 443L2027.8 461L2033.7 479L2038.6 499L2041.7 519L2043.1 539L2042.7 559L2040.8 577L2037.2 595L2031.6 613L2025.4 627L2017.1 641L2008 652.4L1998 661.9L1986 670.1L1972 676.8L1958 681L1944 683.1ZM1670 399.1L1660 400.1L1650 399.7L1642 398.1L1634 394.7L1629.1 391L1625.2 385L1624.5 379L1626.6 373L1630 368.9L1636 364.7L1650 360.7L1666 361.8L1674 364.2L1682 368.2L1692 377L1694.6 383L1693.9 387L1690.7 391L1686 394L1670 399.1ZM2000 981.1L1988 980L1978.4 975L1971.2 967L1966.8 955L1967.2 943L1972.5 931L1981.1 923L1992 919L2004 919.8L2014 924.7L2022 933.6L2026.2 945L2025.8 957L2020.4 969L2011.7 977L2000 981.1Z"/>
<path fill="#47bbe5" d="M1946 679.2L1932 679.6L1920 678.3L1908 675.4L1896 670.8L1884 664.5L1872 656.3L1860 645.9L1850 635.3L1836 616.8L1821.7 593L1793.9 537L1767.5 487L1755.2 459L1747.6 435L1744.3 417L1745 403L1748.8 393L1758.6 381L1776 367L1796 354.8L1818 344.6L1832 339.9L1848 336.3L1864 334.8L1878 335.1L1894 337.3L1908 340.9L1922 346.2L1936 353.3L1950 362.2L1963.8 373L1976.5 385L1988 397.9L1999.3 413L2009.2 429L2024.3 461L2030.9 481L2035.2 499L2038.3 519L2039.7 537L2039.5 557L2037.6 575L2034.1 593L2029.2 609L2023.2 623L2015.2 637L2006 648.8L1996 658.4L1984 666.8L1972 672.7L1960 676.7L1946 679.2ZM2002 967.6L1996 968.7L1988.8 967L1983.3 963L1979.5 957L1978.2 949L1980 941.6L1984 936.1L1990 932.3L1996 931.2L2003.7 933L2009.1 937L2012.8 943L2014.2 951L2012.9 957L2008 964L2002 967.6Z"/>
<path fill="#41b5e6" d="M1948 675.3L1934 676L1922 675L1910 672.3L1898 668L1886 662L1874 654L1853.3 635L1838 615.5L1824 592.7L1771.8 491L1761.1 467L1754 445L1750.6 425L1751.4 409L1755.6 397L1763.9 385L1779.2 371L1798 358.6L1820 348L1834 343.3L1850 339.8L1864 338.5L1878 338.7L1892 340.5L1906 344L1920 349.1L1934 356.1L1948 364.9L1960 374.1L1972 385.1L1984.7 399L1995.4 413L2005.6 429L2020.9 461L2027 479L2031.6 497L2034.7 515L2036.3 533L2036.5 551L2035.1 569L2032 587L2027.6 603L2022 617.2L2014.7 631L2006.1 643L1996.5 653L1986 661.1L1974 667.8L1962 672.3L1948 675.3Z"/>
<path fill="#40ace2" d="M1952 671L1940 672.4L1926 672L1914 669.9L1902 666.1L1890 660.6L1878 653.3L1866 643.8L1856 634.1L1840.5 615L1826 592L1777.1 497L1766.8 475L1759.2 453L1755.5 433L1755.7 417L1759.4 403L1767.7 389L1781.6 375L1800 362.1L1820 352L1834 347.1L1848 343.8L1862 342.1L1876 342.1L1890 343.7L1904 346.9L1918 351.9L1930 357.6L1944 366L1956 374.9L1968 385.5L1980 398.2L1991.6 413L2000.9 427L2016 457L2022.7 475L2027.7 493L2031.1 511L2033.1 529L2033.6 547L2032.5 565L2030.1 581L2026.1 597L2021 611L2014.2 625L2006.2 637L1997.5 647L1988 655.2L1976 662.7L1964 667.9L1952 671Z"/>
<path fill="#3fa3de" d="M1938 669L1926 668.6L1914 666.5L1892 658.2L1880 651.1L1870 643.6L1851.2 625L1837.7 607L1823.4 583L1777.2 493L1766.2 467L1760.8 447L1759.1 429L1761.1 413L1766.8 399L1777.3 385L1792 372L1810 360.7L1830 352L1844 348L1858 345.8L1872 345.3L1886 346.4L1900 349.2L1914 353.7L1928 360.1L1940 367.1L1964 385.9L1976 398.2L1986.5 411L1996.2 425L2005.4 441L2019 473L2024.2 491L2027.9 509L2030 527L2030.7 545L2029.7 563L2027.3 579L2023.4 595L2018.4 609L2011.5 623L2004 634.2L1996 643.5L1986 652.3L1976 658.7L1964 664.1L1952 667.4L1938 669Z"/>
<path fill="#4099d8" d="M1944 665.2L1932 665.7L1920 664.4L1898 657.7L1886 651.5L1876 644.9L1864.2 635L1854.4 625L1840 606.5L1826 583.6L1781.3 497L1770.6 473L1764.7 453L1762.5 435L1763.9 419L1768.5 405L1777.5 391L1791.6 377L1808 365.7L1828 356.2L1840 352.4L1854 349.5L1868 348.5L1882 349.1L1896 351.4L1908 354.8L1922 360.5L1934 366.9L1946 374.8L1958.7 385L1970 395.9L1981.4 409L2000.1 437L2013.9 467L2019.3 483L2023.7 501L2027.7 535L2027.6 553L2026.1 569L2023 585L2018.9 599L2013.1 613L2006.4 625L1998 636.3L1989.5 645L1980 652.3L1968 658.8L1956 663L1944 665.2Z"/>
<path fill="#438ed0" d="M1948 661.3L1938 662.4L1926 662L1914 660L1902 656.2L1890 650.5L1880 644.4L1868 635L1858 625.3L1843 607L1829 585L1785.4 501L1775.2 479L1768.6 459L1765.8 441L1766.4 425L1770.9 409L1779.1 395L1792 381.2L1808 369.5L1826 360.4L1838 356.2L1852 353L1864 351.7L1878 351.8L1892 353.7L1904 356.7L1918 361.9L1930 367.9L1954 384.7L1976.2 407L1994.7 433L2009.6 463L2019.7 495L2024.7 529L2025.1 547L2024 563L2021.5 579L2017.8 593L2012.5 607L2006.4 619L1999.8 629L1991 639L1982 646.8L1972 653.1L1960 658.3L1948 661.3Z"/>
<path fill="#4585c9" d="M1940 659L1930 659.2L1918 657.7L1906 654.5L1896 650.4L1876 638.3L1856 619.7L1842 601.9L1827.9 579L1786.4 499L1775.8 475L1770.5 457L1768.4 439L1770 423L1775.7 407L1785 393L1798 380.4L1814 369.5L1832 361.3L1844 357.6L1858 355.1L1870 354.5L1884 355.3L1898 358L1910 361.7L1934 373.5L1946 381.8L1958 391.8L1979.2 415L1996.3 441L2009.9 471L2018.8 503L2021.2 519L2022.5 537L2022.2 553L2020.5 569L2013.4 597L2008.4 609L2001.6 621L1994 631.1L1984 641L1974 648.2L1964 653.3L1952 657.2L1940 659Z"/>
<path fill="#457cc2" d="M1946 655.1L1936 656.1L1924 655.6L1914 653.8L1902 649.9L1890 644.3L1880 638L1860 620.7L1845.3 603L1831.2 581L1789.4 501L1780.1 481L1774.2 463L1771.3 445L1771.9 429L1776.4 413L1784.4 399L1797.2 385L1812 374.1L1830 365.1L1854 358.6L1866 357.4L1880 357.7L1904 362.6L1928 373.1L1940 380.7L1952 390L1972.7 411L1991.1 437L2004.9 465L2015 497L2019.6 529L2018.9 561L2013.2 589L2003 613L1996 623.7L1988 633L1978 641.7L1968 647.9L1958 652.1L1946 655.1Z"/>
<path fill="#4573bb" d="M1936 653L1926 652.8L1914 650.8L1894 643.4L1874 630.4L1856 613L1842 594.7L1828.9 573L1790.3 499L1779.9 475L1775 457L1773.6 441L1775.5 425L1780.6 411L1789.7 397L1802 384.7L1818 373.8L1836 365.8L1848 362.5L1860 360.6L1872 360.1L1886 361.2L1910 367.6L1934 379.8L1946 388.4L1958 398.9L1977.5 421L1993.9 447L2006.1 475L2014.5 507L2017.5 539L2015.2 569L2012.1 583L2007.5 597L2001.9 609L1994.3 621L1986 630.7L1978 637.8L1968 644.3L1958 648.8L1948 651.6L1936 653Z"/>
<path fill="#446db6" d="M1944 649.2L1924 649.6L1914 647.8L1902 644L1882 633.3L1862 616.3L1847.5 599L1833.3 577L1794.3 503L1784.9 483L1778.9 465L1776.1 447L1777 431L1781 417L1788.7 403L1800 390.1L1814.5 379L1832 370.1L1844 366.2L1856 363.7L1868 362.7L1880 363.2L1904 368.2L1926 378L1948 393.2L1969.6 415L1986.7 439L2000.6 467L2010.1 497L2014.7 527L2014.3 557L2008.9 585L2004.6 597L1998.7 609L1992 619.3L1984 628.5L1976 635.5L1966 641.9L1956 646.2L1944 649.2Z"/>
<path fill="#4368b3" d="M1936 647L1916 645.4L1896 638.5L1876 625.9L1858 608.8L1844 590.6L1830.8 569L1795.2 501L1784.6 477L1780.1 461L1778.3 445L1779.9 429L1784.7 415L1793.5 401L1805.3 389L1820 378.7L1836 371.4L1848 367.8L1860 365.8L1872 365.3L1884 366.2L1896 368.5L1908 372.3L1930 383.2L1952 400L1972 421.7L1988.6 447L2001.2 475L2009.4 505L2012.7 535L2010.8 565L2004.1 591L1998.8 603L1993 613L1985.2 623L1976.8 631L1968 637.3L1958 642.2L1948 645.3L1936 647Z"/>
<path fill="#4163b0" d="M1944 643.1L1934 644.2L1924 643.9L1912 641.6L1902 638.3L1882 627.4L1864 612.1L1850 595.7L1836 574.4L1799.1 505L1789.6 485L1783.4 467L1780.7 451L1781.3 435L1784.9 421L1792.3 407L1802.4 395L1816 384.1L1832 375.6L1854 369.2L1866 367.9L1878 368.1L1890 369.7L1902 372.8L1924 382.5L1946 397.8L1965.2 417L1982.5 441L1995.7 467L2005 495L2009.9 525L2009.7 555L2004.8 581L2000.6 593L1994.7 605L1988.2 615L1981.3 623L1974 629.5L1964 636.1L1954 640.5L1944 643.1Z"/>
<path fill="#3f5fad" d="M1938 641.1L1928 641.3L1918 640.2L1898 633.8L1880 623.1L1862 607L1848 589.6L1835 569L1800 503L1789.9 481L1784.9 465L1782.7 449L1783.9 433L1788.4 419L1796.8 405L1808 393.2L1822 383.3L1836 376.6L1858 371.1L1880 370.7L1892 372.6L1904 376L1926 386.4L1948 402.6L1967.2 423L1983.5 447L1995.8 473L2004.1 501L2008 531L2006.9 559L2000.9 585L1996 596.9L1990.4 607L1984 615.8L1976 624.1L1968 630.3L1958 635.8L1948 639.3L1938 641.1Z"/>
<path fill="#3e5aaa" d="M1944 637.2L1934 638.5L1924 638.3L1904 633.6L1884 623.1L1866 608.1L1852 591.9L1838.2 571L1794.2 487L1788.4 471L1785.2 455L1785.2 439L1788.5 425L1795.4 411L1805.2 399L1818 388.5L1834 379.9L1856 373.7L1878 372.9L1900 377.2L1922 386.8L1942.6 401L1962 420.2L1978.6 443L1991 467L2000.5 495L2005.3 523L2005.5 551L2000.9 577L1992.1 599L1986 608.8L1979.3 617L1970.5 625L1962 630.6L1954 634.3L1944 637.2Z"/>
<path fill="#3b57a8" d="M1940 635.1L1922 635.4L1902 630.1L1884 620.4L1865.8 605L1852 588.7L1839.1 569L1804.7 505L1795.2 485L1789.7 469L1787 453L1787.4 439L1790.9 425L1798 411.3L1808 399.5L1821.5 389L1836 381.6L1856 376.1L1878 375.3L1900 379.7L1922 389.4L1942 403.4L1961.5 423L1977.3 445L1990.4 471L1999.3 499L2003.5 527L2003.1 553L1998 578.3L1989.2 599L1982.6 609L1975.5 617L1968 623.4L1958.9 629L1950 632.7L1940 635.1Z"/>
<path fill="#3856a7" d="M1932 633.1L1914 631.3L1896 624.7L1878 613.2L1862 597.9L1850 582.7L1837.6 563L1805.5 503L1795.4 481L1790.6 465L1788.8 451L1789.8 437L1794.1 423L1801 411L1811.8 399L1824 390.1L1838 383.2L1858 378.1L1880 377.8L1902 382.7L1924 393.2L1945.1 409L1963.7 429L1978.4 451L1990.5 477L1998.5 505L2001.6 533L2000 559L1993.9 583L1983.7 603L1977.5 611L1969.2 619L1960.4 625L1952 629L1942 631.9L1932 633.1Z"/>
<path fill="#3555a6" d="M1942 629.1L1924 630.2L1914 628.6L1904 625.6L1886 616.3L1868 601.4L1854 585L1842 567L1800.6 489L1794.5 473L1791.2 457L1791.1 443L1794.1 429L1799.6 417L1808.8 405L1820 395.3L1834 387.3L1854 381L1874 379.6L1896 383.2L1916 391.2L1937.1 405L1955.9 423L1971.1 443L1984.2 467L1993.5 493L1998.6 519L1999.3 545L1995.3 571L1987.8 591L1982 600.9L1975.7 609L1968 616.4L1960 622L1952 626L1942 629.1Z"/>
<path fill="#3254a6" d="M1938 627L1920 627.1L1902 622.2L1884 612.3L1868 598.5L1854.8 583L1842 563.6L1801.5 487L1795.8 471L1793.1 457L1793.1 443L1796.3 429L1802.2 417L1811.8 405L1822 396.5L1836 388.7L1856 382.8L1876 381.9L1898 386.1L1918 394.7L1938 408.5L1956 426.3L1971.2 447L1983.8 471L1992.5 497L1996.9 523L1996.9 549L1992.3 573L1984 593L1972 609.2L1964 616.1L1956 621.1L1948 624.5L1938 627Z"/>
<path fill="#2f53a5" d="M1930 625L1914 623.5L1896 616.9L1880 606.6L1864 591.4L1852 576L1840 556.8L1811 503L1800.9 481L1796.6 467L1794.7 453L1795.7 439L1799.3 427L1806 415L1814.8 405L1826 396.4L1840 389.4L1860 384.5L1880 384.4L1902 389.7L1922 399.6L1942 414.8L1958.9 433L1973.6 455L1984.8 479L1992.3 505L1995.3 531L1993.7 557L1987.9 579L1978 597.9L1972 605.4L1964 612.8L1956 618L1948 621.6L1940 623.9L1930 625Z"/>
<path fill="#2b51a4" d="M1940 621.1L1924 622.3L1906 618.6L1888 609.7L1872 596.9L1858 581.1L1846 563.5L1806.9 491L1800.5 475L1797.3 461L1796.7 447L1799.3 433L1804.6 421L1812 410.9L1823 401L1836 393.4L1854 387.5L1874 386.1L1894 389.4L1914 397.4L1934 410.7L1951.2 427L1966.5 447L1978.5 469L1987.3 493L1992.2 517L1993.2 541L1989.9 565L1982 586.5L1970.7 603L1964 609.4L1956 614.9L1940 621.1Z"/>
<path fill="#2850a3" d="M1936 619.2L1920 619.4L1902 614.5L1886 605.7L1870 592.1L1858 578.1L1845.3 559L1806.9 487L1801.7 473L1798.8 459L1798.8 445L1801.4 433L1807 421L1814.7 411L1826 401.4L1838 394.7L1856 389.3L1876 388.3L1896 392.2L1916 400.9L1934 413.3L1952 431L1966.7 451L1978.2 473L1986.4 497L1990.8 523L1990.7 547L1986.5 569L1978 588.8L1967.1 603L1960 609.1L1952 614L1936 619.2Z"/>
<path fill="#244ea2" d="M1930 617.1L1914 615.8L1898 610.2L1882 600.2L1868 587.2L1856 572.3L1844 553.5L1816.5 503L1807 483L1802.4 469L1800.4 455L1801 443L1804.2 431L1810 420.1L1818 410.5L1828 402.5L1840 396.1L1858 391.1L1878 390.6L1898 395L1916 403.3L1935.2 417L1952 434.1L1966.8 455L1977.8 477L1985.4 501L1989 525L1988.4 549L1983.5 571L1979.5 581L1974 590.6L1962 604.2L1947.8 613L1940 615.6L1930 617.1Z"/>
<path fill="#214da1" d="M1938 613.4L1922 614.5L1906 611L1890 603.2L1874 590.5L1861.8 577L1849.3 559L1812.3 491L1806.6 477L1803 463L1802.3 449L1804.3 437L1809.3 425L1816.5 415L1826 406.3L1838 399.2L1856 393.5L1874 392.4L1894 395.9L1912 403.4L1930 415.3L1946.7 431L1960.7 449L1973.1 471L1981.3 493L1986.2 517L1987.1 539L1984.1 561L1977.9 579L1967.6 595L1954 606.8L1946 610.9L1938 613.4Z"/>
<path fill="#1e4ca0" d="M1936 611.1L1920 611.7L1904 607.8L1888 599.3L1873.2 587L1862 574.3L1850 556.9L1813.2 489L1807.7 475L1804.5 461L1804.2 449L1806.3 437L1811.6 425L1819.2 415L1828.5 407L1840 400.5L1858 395.2L1876 394.6L1894 398.1L1912 405.7L1930 417.9L1946 433.2L1960 451.4L1971.9 473L1979.9 495L1984.3 517L1985.1 539L1981.9 561L1975.3 579L1964.3 595L1951.9 605L1944 608.8L1936 611.1Z"/>
<path fill="#1c4b9f" d="M1932 609L1918 609L1902 604.5L1886 595.3L1872 583L1860.3 569L1849.7 553L1814.1 487L1808.9 473L1806.4 461L1806 449L1808.4 437L1812.8 427L1820.1 417L1829.2 409L1840 402.7L1858 397.3L1876 396.6L1894 400.2L1912 408.1L1930 420.5L1946 436.2L1960 455L1970.7 475L1978.4 497L1982.7 521L1982.8 543L1979.1 563L1971.5 581L1960.7 595L1948 604.1L1940 607.3L1932 609Z"/>
<path fill="#1c4b9f" d="M1938 605.1L1924 606.9L1908 604.2L1892 596.8L1876.8 585L1864.1 571L1852.9 555L1818.7 493L1812.7 479L1808.8 465L1807.8 453L1809.3 441L1813.9 429L1820 420.2L1829.8 411L1839.9 405L1856 399.7L1874 398.5L1892 401.8L1908 408.2L1926 419.8L1942 434.6L1956 452.4L1966.7 471L1974.7 491L1979.8 513L1981.2 535L1978.9 555L1973 573L1964 587.7L1952 598.7L1938 605.1Z"/>
<path fill="#1c4b9f" d="M1934 603.4L1920 604.1L1904 600.3L1890 592.9L1876 581.5L1864.9 569L1853.7 553L1819.6 491L1813.8 477L1810.6 465L1809.6 453L1811.3 441L1815.1 431L1821.9 421L1830 413.4L1840.3 407L1856 401.8L1874 400.6L1892 403.9L1908 410.5L1926 422.4L1941.5 437L1955.4 455L1965.6 473L1973.3 493L1978.1 515L1979.1 537L1976.2 557L1970 573.9L1960 588.5L1948 598.1L1934 603.4Z"/>
</g>
<path d="M1380 336L1392.6 342.4L1407 350.7L1417.4 356.2L1422.2 361.7L1426.4 369.3L1430.2 374.8L1418.8 379L1417 384.5L1415.6 390.7L1420.9 394.8L1425 397.6L1427.8 407.2L1433.3 418.3L1437.1 425.2L1436.7 428.2L1422.9 421.7L1422.2 430.4L1437.1 430.4L1437.4 444.5L1440.2 450L1449.8 462.4L1460.2 472.1L1464.3 481.7L1467.8 491.4L1476 497.6L1498.8 498.3L1511.9 505.5L1527 516.6L1538.1 525.5L1549.8 531.7L1556.4 537.2L1557.4 549L1559.5 564.1L1561.6 579.3L1562.9 594.5L1562.9 600L1559 604.8L1552.6 610.3L1559.5 609.7L1564.3 614L1568.4 616.6L1571.2 613.5L1577.4 614L1578.1 612.4L1582.9 613.8L1589.1 621L1599.5 620.4L1611.2 628.3L1618.4 634.5L1614.7 636.6L1611.2 640.7L1619.5 643.4L1631.9 645.5L1637.4 647.6L1644.8 648.3L1650.3 653.1L1653.8 659.3L1653.1 664.8L1646.2 668.3L1638.2 671.7L1637.2 680L1644.8 677.2L1657.2 672.4L1669.7 667.6L1680.7 662.8L1688.3 660.7L1695.9 660L1705.5 654.5L1716.6 646.2L1723.4 637.2L1726.9 633.1L1729.7 633.8L1731.7 640L1731 644.1L1734.8 649.7L1735.2 657.9L1732.4 667.6L1727.6 674.5L1720.7 680L1720.7 676.6L1726.9 673.1L1729.7 664.8L1728.3 660L1722.8 659.3L1716.6 663.4L1720.7 666.2L1711 670.3L1701.4 675.2L1691.7 676.6L1680.7 679.3L1671 682.1L1677.9 689.7L1676.6 692.4L1682.1 693.8L1691.7 702.8L1692.4 714.5L1698.6 715.2L1707.6 716.6L1713.1 712.8L1706.9 720L1709 724.1L1719.3 731L1729 737.9L1735.9 742.1L1739.3 750.3L1746.9 757.2L1752.4 761.4L1752.4 767.6L1755.2 776.6L1762.8 782.8L1761.4 785.5L1770.3 794.5L1769.7 800L1757.9 805.5L1757.2 812.4L1751.7 814.5L1744.1 807.6L1735.9 802.1L1727.6 802.8L1717.9 801.4L1719.3 795.9L1712.4 793.1L1704.1 787.6L1695.9 780L1693.1 775.9L1683.4 773.1L1672.4 769.7L1662.8 766.2L1651.7 763.7L1643.4 764.6L1640 766.9L1634.5 765.9L1633.8 760.7L1630.8 757.7L1627.6 762.8L1624.8 766.9L1617.2 769L1609 769L1600.7 767.6L1589.7 766.2L1586.9 760.7L1584.8 749.7L1582.8 743.9L1574.5 746.2L1563.4 749.7L1553.8 753.8L1541.4 756.6L1527.6 760.7L1521.2 756.8L1517 757L1512.8 759.6L1503.8 761.4L1499.5 767.6L1489.8 780L1474.7 795.2L1467.8 803.4L1458.1 808.3L1452.6 811.7L1449.8 815.9L1444.3 817.2L1441.6 822.8L1437.4 832.4L1435.3 842.1L1430.5 850.3L1426.4 862.8L1420.9 866.9L1416.7 876.6L1409.8 887.6L1405.7 901.4L1403.5 906.7L1396.7 914.5L1399.6 916.4L1401.5 933.9L1404.5 953.4L1404.5 968.9L1409.3 988.4L1410.3 1000L1408 1005.9L1409.9 1011.7L1408.3 1027.3L1404.5 1039L1399.6 1052.6L1404.5 1060.4L1411.3 1070.1L1412.2 1077.9L1409.3 1085.7L1396.7 1089.6L1392.8 1090.5L1380 1091Z" fill="#fbe4bc" stroke="#111" stroke-width="1.55" stroke-linejoin="round"/>
<path d="M1380 1093.4L1392.8 1093.4L1418.1 1093.1L1419.6 1095.4L1414.2 1098.3L1409.3 1101.6L1404.5 1098.3L1399.6 1097.3L1404.5 1107.1L1403.5 1114.8L1410.3 1120.7L1411.3 1125.5L1417.1 1126.5L1422 1130L1425 1140L1380 1140Z" fill="#fbe4bc" stroke="#111" stroke-width="1.55" stroke-linejoin="round"/>
<g fill="#96d2ea" stroke="none">
<polygon points="1390,402.4 1398.8,402 1405.4,405.6 1401.8,415.5 1390,418.3"/>
<polygon points="1390,867.6 1405.7,867.6 1396,890.3 1390,890.3"/>
<polygon points="1390,1065.8 1402.1,1067.2 1396.7,1084.7 1390,1086.6"/>
<polygon points="1390,1090.3 1428.2,1083.8 1428.6,1086 1390,1093.6"/>
<polygon points="1667,626.5 1674.8,624.3 1676.7,629.5 1679.9,642.4 1685.8,652 1690,659 1687.5,661.5 1684,660 1678,652 1674.1,642.4 1668.2,629.5"/>
<polygon points="1700,626.2 1707,627.5 1702,636 1695.5,645.7 1691,657 1687,658 1689.6,645.7 1696.1,636"/>
<polygon points="1646.2,711.7 1664.1,720 1684.8,732.4 1694,741 1706.9,755.2 1727.6,774.5 1744.1,792.4 1742,797 1737.2,800 1729,796.6 1715.2,777.2 1698.6,757.9 1682,740 1677.9,737.9 1657.2,724.8 1640,716.6"/>
</g>
<g fill="none" stroke="#96d2ea" stroke-linejoin="round">
<path stroke-width="3.6" d="M1390 664.3L1418.3 658.3L1444.8 655.3L1479 658.3L1516.9 669.7L1540 677L1560.7 684.6L1574.5 691L1588.3 696.4L1604.5 698.6M1606.5 687.4L1622.8 686.6L1636.6 684.1L1650.3 680L1664.1 674.5"/>
<path stroke-width="5" d="M1626 686.2L1636.6 684.1L1650.3 680L1657 677.6"/>
<path stroke-width="6.2" d="M1655 678.4L1664.1 674.5L1677.9 667.4L1688.6 661.6"/>
</g>
</g>
<rect x="1392.2" y="165.3" width="659.0" height="965.2" fill="none" stroke="#000" stroke-width="2.2"/>
<rect x="1466.0" y="158.6" width="2" height="7" fill="#000"/><rect x="1466.0" y="1130" width="2" height="8.2" fill="#000"/>
<text x="1467.3" y="152.8" font-size="22.5" text-anchor="middle" textLength="96.0" lengthAdjust="spacingAndGlyphs">119°0'0&quot;E</text>
<text x="1467.3" y="1157.7" font-size="22.5" text-anchor="middle" textLength="96.0" lengthAdjust="spacingAndGlyphs">119°0'0&quot;E</text>
<rect x="1630.7" y="158.6" width="2" height="7" fill="#000"/><rect x="1630.7" y="1130" width="2" height="8.2" fill="#000"/>
<text x="1632.0" y="152.8" font-size="22.5" text-anchor="middle" textLength="107.5" lengthAdjust="spacingAndGlyphs">119°10'0&quot;E</text>
<text x="1632.0" y="1157.7" font-size="22.5" text-anchor="middle" textLength="107.5" lengthAdjust="spacingAndGlyphs">119°10'0&quot;E</text>
<rect x="1795.0" y="158.6" width="2" height="7" fill="#000"/><rect x="1795.0" y="1130" width="2" height="8.2" fill="#000"/>
<text x="1796.3" y="152.8" font-size="22.5" text-anchor="middle" textLength="107.5" lengthAdjust="spacingAndGlyphs">119°20'0&quot;E</text>
<text x="1796.3" y="1157.7" font-size="22.5" text-anchor="middle" textLength="107.5" lengthAdjust="spacingAndGlyphs">119°20'0&quot;E</text>
<rect x="1959.0" y="158.6" width="2" height="7" fill="#000"/><rect x="1959.0" y="1130" width="2" height="8.2" fill="#000"/>
<text x="1960.3" y="152.8" font-size="22.5" text-anchor="middle" textLength="107.5" lengthAdjust="spacingAndGlyphs">119°30'0&quot;E</text>
<text x="1960.3" y="1157.7" font-size="22.5" text-anchor="middle" textLength="107.5" lengthAdjust="spacingAndGlyphs">119°30'0&quot;E</text>
<rect x="1472.8" y="205" width="355.3" height="11.4" fill="none" stroke="#111" stroke-width="1"/>
<rect x="1472.8" y="205" width="22.2" height="11.4" fill="#000"/>
<rect x="1517.2" y="205" width="22.2" height="11.4" fill="#000"/>
<rect x="1561.6" y="205" width="88.9" height="11.4" fill="#000"/>
<rect x="1739.3" y="205" width="88.8" height="11.4" fill="#000"/>
<text x="1472.3" y="239.9" font-size="20" text-anchor="middle">0</text>
<text x="1517.2" y="239.9" font-size="20" text-anchor="middle">5</text>
<text x="1561.6" y="239.9" font-size="20" text-anchor="middle">10</text>
<text x="1650.0" y="239.9" font-size="20" text-anchor="middle">20</text>
<text x="1738.8" y="239.9" font-size="20" text-anchor="middle">30</text>
<text x="1827.0" y="239.9" font-size="20" text-anchor="middle">40</text>
<text x="1833" y="215.5" font-size="20.5">Km</text>
<text class="s" x="1974" y="216.4" font-size="23" text-anchor="middle">N</text>
<path d="M1973.6 221.7L1957.2 276.1L1973.6 255.9Z" fill="#000" stroke="#000" stroke-width="1"/>
<path d="M1973.6 221.7L1990 276.1L1973.6 255.9Z" fill="none" stroke="#000" stroke-width="1.8" stroke-linejoin="miter"/>
<circle cx="1500.2" cy="1073.8" r="6.4" fill="#000"/><text x="1509.4" y="1068.0" font-size="18">A1</text>
<circle cx="1509.0" cy="972.0" r="6.4" fill="#000"/><text x="1518.2" y="966.2" font-size="18">A2</text>
<circle cx="1545.0" cy="896.8" r="6.4" fill="#000"/><text x="1554.2" y="891.0" font-size="18">A3</text>
<circle cx="1836.7" cy="826.2" r="6.4" fill="#000"/><text x="1845.9" y="820.4" font-size="18">B1</text>
<circle cx="1660.5" cy="590.3" r="6.4" fill="#000"/><text x="1669.7" y="584.5" font-size="18">B2</text>
<circle cx="1523.6" cy="490.2" r="6.4" fill="#000"/><text x="1532.8" y="484.4" font-size="18">B3</text>
<circle cx="1624.6" cy="419.0" r="6.4" fill="#000"/><text x="1633.8" y="413.2" font-size="18">C1</text>
<circle cx="1706.4" cy="462.0" r="6.4" fill="#000"/><text x="1715.6" y="456.2" font-size="18">C2</text>
<circle cx="1882.5" cy="477.2" r="6.4" fill="#000"/><text x="1891.7" y="471.4" font-size="18">C3</text>
<circle cx="1966.8" cy="652.6" r="6.4" fill="#000"/><text x="1976.0" y="646.8" font-size="18">D1</text>
<circle cx="1972.5" cy="730.4" r="6.4" fill="#000"/><text x="1981.7" y="724.6" font-size="18">D2</text>
<circle cx="1963.8" cy="922.4" r="6.4" fill="#000"/><text x="1973.0" y="916.6" font-size="18">D3</text>
<circle cx="1817.8" cy="1003.2" r="6.4" fill="#000"/><text x="1827.0" y="997.4" font-size="18">D4</text>
<text x="1498.4" y="701.8" font-size="29" font-style="italic" textLength="142.8" lengthAdjust="spacingAndGlyphs">Yellow river</text>
<rect x="2084" y="273.8" width="58.1" height="751.0" fill="url(#cb)"/>
<rect x="2142" y="273.5" width="5" height="1.3" fill="#222"/><text x="2154" y="277.8" font-size="12" textLength="20.5" lengthAdjust="spacingAndGlyphs">21.2</text>
<rect x="2142" y="348.6" width="5" height="1.3" fill="#222"/><text x="2154" y="352.9" font-size="12" textLength="20.5" lengthAdjust="spacingAndGlyphs">20.7</text>
<rect x="2142" y="423.7" width="5" height="1.3" fill="#222"/><text x="2154" y="428.0" font-size="12" textLength="20.5" lengthAdjust="spacingAndGlyphs">20.2</text>
<rect x="2142" y="498.8" width="5" height="1.3" fill="#222"/><text x="2154" y="503.1" font-size="12" textLength="20.5" lengthAdjust="spacingAndGlyphs">19.7</text>
<rect x="2142" y="573.9" width="5" height="1.3" fill="#222"/><text x="2154" y="578.2" font-size="12" textLength="20.5" lengthAdjust="spacingAndGlyphs">19.2</text>
<rect x="2142" y="649.0" width="5" height="1.3" fill="#222"/><text x="2154" y="653.3" font-size="12" textLength="20.5" lengthAdjust="spacingAndGlyphs">18.7</text>
<rect x="2142" y="724.1" width="5" height="1.3" fill="#222"/><text x="2154" y="728.4" font-size="12" textLength="20.5" lengthAdjust="spacingAndGlyphs">18.2</text>
<rect x="2142" y="799.2" width="5" height="1.3" fill="#222"/><text x="2154" y="803.5" font-size="12" textLength="20.5" lengthAdjust="spacingAndGlyphs">17.7</text>
<rect x="2142" y="874.3" width="5" height="1.3" fill="#222"/><text x="2154" y="878.6" font-size="12" textLength="20.5" lengthAdjust="spacingAndGlyphs">17.2</text>
<rect x="2142" y="949.4" width="5" height="1.3" fill="#222"/><text x="2154" y="953.7" font-size="12" textLength="20.5" lengthAdjust="spacingAndGlyphs">16.7</text>
<rect x="2142" y="1024.5" width="5" height="1.3" fill="#222"/><text x="2154" y="1028.8" font-size="12" textLength="20.5" lengthAdjust="spacingAndGlyphs">16.2</text>
<circle cx="2114.9" cy="223.2" r="7" fill="#000"/>
<text x="1717.6" y="1232" font-size="45" text-anchor="middle">CBEI</text>
</g>
</svg></body></html>
